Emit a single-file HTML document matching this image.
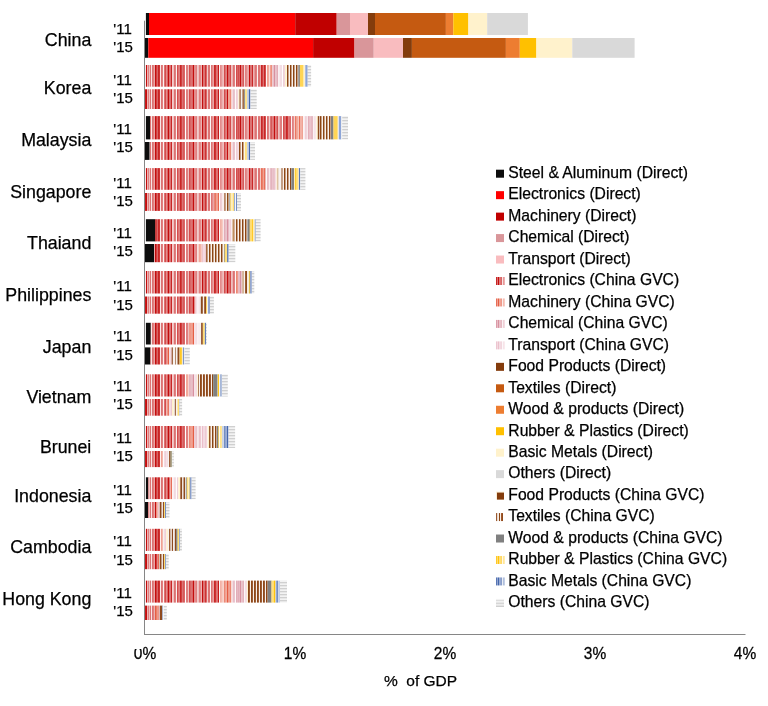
<!DOCTYPE html><html><head><meta charset="utf-8"><title>Chart</title><style>html,body{margin:0;padding:0;background:#fff;width:768px;height:706px;overflow:hidden}svg{display:block;will-change:transform}text{fill:#000;stroke:#000;stroke-width:0.25px}</style></head><body><svg width="768" height="706" viewBox="0 0 768 706" font-family="'Liberation Sans', Arial, sans-serif" fill="#000"><defs><pattern id="peg" patternUnits="userSpaceOnUse" x="145" y="0" width="172" height="4"><rect x="0" y="0" width="1" height="4" fill="#c61919"/><rect x="1" y="0" width="1" height="4" fill="#c30d0d"/><rect x="2" y="0" width="1" height="4" fill="#ecb2b2"/><rect x="3" y="0" width="1" height="4" fill="#e08080"/><rect x="4" y="0" width="1" height="4" fill="#efbfbf"/><rect x="5" y="0" width="1" height="4" fill="#dc7373"/><rect x="6" y="0" width="1" height="4" fill="#f9e6e6"/><rect x="7" y="0" width="1" height="4" fill="#dc7373"/><rect x="8" y="0" width="1" height="4" fill="#e08080"/><rect x="9" y="0" width="1" height="4" fill="#e9a6a6"/><rect x="10" y="0" width="1" height="4" fill="#c30d0d"/><rect x="11" y="0" width="1" height="4" fill="#d04040"/><rect x="12" y="0" width="1" height="4" fill="#d96666"/><rect x="13" y="0" width="1" height="4" fill="#c92626"/><rect x="14" y="0" width="1" height="4" fill="#cd3333"/><rect x="15" y="0" width="1" height="4" fill="#f9e6e6"/><rect x="16" y="0" width="1" height="4" fill="#dc7373"/><rect x="17" y="0" width="1" height="4" fill="#e08080"/><rect x="18" y="0" width="1" height="4" fill="#fcf2f2"/><rect x="19" y="0" width="1" height="4" fill="#dc7373"/><rect x="20" y="0" width="1" height="4" fill="#d34d4d"/><rect x="21" y="0" width="1" height="4" fill="#e38c8c"/><rect x="22" y="0" width="1" height="4" fill="#d96666"/><rect x="23" y="0" width="1" height="4" fill="#c30d0d"/><rect x="24" y="0" width="1" height="4" fill="#dc7373"/><rect x="25" y="0" width="1" height="4" fill="#dc7373"/><rect x="26" y="0" width="1" height="4" fill="#c92626"/><rect x="27" y="0" width="1" height="4" fill="#f2cccc"/><rect x="28" y="0" width="1" height="4" fill="#efbfbf"/><rect x="29" y="0" width="1" height="4" fill="#dc7373"/><rect x="30" y="0" width="1" height="4" fill="#e08080"/><rect x="31" y="0" width="1" height="4" fill="#fcf2f2"/><rect x="32" y="0" width="1" height="4" fill="#d34d4d"/><rect x="33" y="0" width="1" height="4" fill="#dc7373"/><rect x="34" y="0" width="1" height="4" fill="#e08080"/><rect x="35" y="0" width="1" height="4" fill="#c92626"/><rect x="36" y="0" width="1" height="4" fill="#d04040"/><rect x="37" y="0" width="1" height="4" fill="#dc7373"/><rect x="38" y="0" width="1" height="4" fill="#d65959"/><rect x="39" y="0" width="1" height="4" fill="#d96666"/><rect x="40" y="0" width="1" height="4" fill="#ffffff"/><rect x="41" y="0" width="1" height="4" fill="#e08080"/><rect x="42" y="0" width="1" height="4" fill="#e08080"/><rect x="43" y="0" width="1" height="4" fill="#efbfbf"/><rect x="44" y="0" width="1" height="4" fill="#d34d4d"/><rect x="45" y="0" width="1" height="4" fill="#d96666"/><rect x="46" y="0" width="1" height="4" fill="#dc7373"/><rect x="47" y="0" width="1" height="4" fill="#d96666"/><rect x="48" y="0" width="1" height="4" fill="#c30d0d"/><rect x="49" y="0" width="1" height="4" fill="#e38c8c"/><rect x="50" y="0" width="1" height="4" fill="#e38c8c"/><rect x="51" y="0" width="1" height="4" fill="#e08080"/><rect x="52" y="0" width="1" height="4" fill="#f2cccc"/><rect x="53" y="0" width="1" height="4" fill="#efbfbf"/><rect x="54" y="0" width="1" height="4" fill="#e08080"/><rect x="55" y="0" width="1" height="4" fill="#e38c8c"/><rect x="56" y="0" width="1" height="4" fill="#ecb2b2"/><rect x="57" y="0" width="1" height="4" fill="#c30d0d"/><rect x="58" y="0" width="1" height="4" fill="#dc7373"/><rect x="59" y="0" width="1" height="4" fill="#dc7373"/><rect x="60" y="0" width="1" height="4" fill="#cd3333"/><rect x="61" y="0" width="1" height="4" fill="#d96666"/><rect x="62" y="0" width="1" height="4" fill="#f2cccc"/><rect x="63" y="0" width="1" height="4" fill="#dc7373"/><rect x="64" y="0" width="1" height="4" fill="#dc7373"/><rect x="65" y="0" width="1" height="4" fill="#fdf7f7"/><rect x="66" y="0" width="1" height="4" fill="#dc7373"/><rect x="67" y="0" width="1" height="4" fill="#e38c8c"/><rect x="68" y="0" width="1" height="4" fill="#e9a6a6"/><rect x="69" y="0" width="1" height="4" fill="#c92626"/><rect x="70" y="0" width="1" height="4" fill="#cd3333"/><rect x="71" y="0" width="1" height="4" fill="#dc7373"/><rect x="72" y="0" width="1" height="4" fill="#dc7373"/><rect x="73" y="0" width="1" height="4" fill="#c61919"/><rect x="74" y="0" width="1" height="4" fill="#fcf2f2"/><rect x="75" y="0" width="1" height="4" fill="#e38c8c"/><rect x="76" y="0" width="1" height="4" fill="#e69999"/><rect x="77" y="0" width="1" height="4" fill="#ecb2b2"/><rect x="78" y="0" width="1" height="4" fill="#efbfbf"/><rect x="79" y="0" width="1" height="4" fill="#d34d4d"/><rect x="80" y="0" width="1" height="4" fill="#dc7373"/><rect x="81" y="0" width="1" height="4" fill="#e08080"/><rect x="82" y="0" width="1" height="4" fill="#c30d0d"/><rect x="83" y="0" width="1" height="4" fill="#d96666"/><rect x="84" y="0" width="1" height="4" fill="#dc7373"/><rect x="85" y="0" width="1" height="4" fill="#d34d4d"/><rect x="86" y="0" width="1" height="4" fill="#efbfbf"/><rect x="87" y="0" width="1" height="4" fill="#ecb2b2"/><rect x="88" y="0" width="1" height="4" fill="#dc7373"/><rect x="89" y="0" width="1" height="4" fill="#e08080"/><rect x="90" y="0" width="1" height="4" fill="#fcf2f2"/><rect x="91" y="0" width="1" height="4" fill="#d34d4d"/><rect x="92" y="0" width="1" height="4" fill="#d96666"/><rect x="93" y="0" width="1" height="4" fill="#d34d4d"/><rect x="94" y="0" width="1" height="4" fill="#d96666"/><rect x="95" y="0" width="1" height="4" fill="#c30d0d"/><rect x="96" y="0" width="1" height="4" fill="#e08080"/><rect x="97" y="0" width="1" height="4" fill="#dc7373"/><rect x="98" y="0" width="1" height="4" fill="#d65959"/><rect x="99" y="0" width="1" height="4" fill="#f6d9d9"/><rect x="100" y="0" width="1" height="4" fill="#e08080"/><rect x="101" y="0" width="1" height="4" fill="#e38c8c"/><rect x="102" y="0" width="1" height="4" fill="#e9a6a6"/><rect x="103" y="0" width="1" height="4" fill="#e9a6a6"/><rect x="104" y="0" width="1" height="4" fill="#c30d0d"/><rect x="105" y="0" width="1" height="4" fill="#dc7373"/><rect x="106" y="0" width="1" height="4" fill="#dc7373"/><rect x="107" y="0" width="1" height="4" fill="#c92626"/><rect x="108" y="0" width="1" height="4" fill="#ecb2b2"/><rect x="109" y="0" width="1" height="4" fill="#e69999"/><rect x="110" y="0" width="1" height="4" fill="#dc7373"/><rect x="111" y="0" width="1" height="4" fill="#e08080"/><rect x="112" y="0" width="1" height="4" fill="#fcf2f2"/><rect x="113" y="0" width="1" height="4" fill="#dc7373"/><rect x="114" y="0" width="1" height="4" fill="#dc7373"/><rect x="115" y="0" width="1" height="4" fill="#e9a6a6"/><rect x="116" y="0" width="1" height="4" fill="#c92626"/><rect x="117" y="0" width="1" height="4" fill="#d04040"/><rect x="118" y="0" width="1" height="4" fill="#dc7373"/><rect x="119" y="0" width="1" height="4" fill="#c92626"/><rect x="120" y="0" width="1" height="4" fill="#d34d4d"/><rect x="121" y="0" width="1" height="4" fill="#fcf2f2"/><rect x="122" y="0" width="1" height="4" fill="#dc7373"/><rect x="123" y="0" width="1" height="4" fill="#e08080"/><rect x="124" y="0" width="1" height="4" fill="#f2cccc"/><rect x="125" y="0" width="1" height="4" fill="#dc7373"/><rect x="126" y="0" width="1" height="4" fill="#d65959"/><rect x="127" y="0" width="1" height="4" fill="#e08080"/><rect x="128" y="0" width="1" height="4" fill="#dc7373"/><rect x="129" y="0" width="1" height="4" fill="#c30d0d"/><rect x="130" y="0" width="1" height="4" fill="#e08080"/><rect x="131" y="0" width="1" height="4" fill="#dc7373"/><rect x="132" y="0" width="1" height="4" fill="#d34d4d"/><rect x="133" y="0" width="1" height="4" fill="#efbfbf"/><rect x="134" y="0" width="1" height="4" fill="#ecb2b2"/><rect x="135" y="0" width="1" height="4" fill="#e08080"/><rect x="136" y="0" width="1" height="4" fill="#e08080"/><rect x="137" y="0" width="1" height="4" fill="#fefafa"/><rect x="138" y="0" width="1" height="4" fill="#d34d4d"/><rect x="139" y="0" width="1" height="4" fill="#d96666"/><rect x="140" y="0" width="1" height="4" fill="#dc7373"/><rect x="141" y="0" width="1" height="4" fill="#c92626"/><rect x="142" y="0" width="1" height="4" fill="#cd3333"/><rect x="143" y="0" width="1" height="4" fill="#e08080"/><rect x="144" y="0" width="1" height="4" fill="#dc7373"/><rect x="145" y="0" width="1" height="4" fill="#d96666"/><rect x="146" y="0" width="1" height="4" fill="#fcf2f2"/><rect x="147" y="0" width="1" height="4" fill="#e08080"/><rect x="148" y="0" width="1" height="4" fill="#e38c8c"/><rect x="149" y="0" width="1" height="4" fill="#ecb2b2"/><rect x="150" y="0" width="1" height="4" fill="#cd3333"/><rect x="151" y="0" width="1" height="4" fill="#dc7373"/><rect x="152" y="0" width="1" height="4" fill="#e08080"/><rect x="153" y="0" width="1" height="4" fill="#e9a6a6"/><rect x="154" y="0" width="1" height="4" fill="#c92626"/><rect x="155" y="0" width="1" height="4" fill="#e38c8c"/><rect x="156" y="0" width="1" height="4" fill="#e38c8c"/><rect x="157" y="0" width="1" height="4" fill="#dc7373"/><rect x="158" y="0" width="1" height="4" fill="#f9e6e6"/><rect x="159" y="0" width="1" height="4" fill="#f6d9d9"/><rect x="160" y="0" width="1" height="4" fill="#e69999"/><rect x="161" y="0" width="1" height="4" fill="#e9a6a6"/><rect x="162" y="0" width="1" height="4" fill="#f2cccc"/><rect x="163" y="0" width="1" height="4" fill="#d34d4d"/><rect x="164" y="0" width="1" height="4" fill="#dc7373"/><rect x="165" y="0" width="1" height="4" fill="#e08080"/><rect x="166" y="0" width="1" height="4" fill="#d96666"/><rect x="167" y="0" width="1" height="4" fill="#d96666"/><rect x="168" y="0" width="1" height="4" fill="#f9e6e6"/><rect x="169" y="0" width="1" height="4" fill="#e69999"/><rect x="170" y="0" width="1" height="4" fill="#e9a6a6"/><rect x="171" y="0" width="1" height="4" fill="#fcf2f2"/></pattern><pattern id="pmg" patternUnits="userSpaceOnUse" x="145" y="0" width="172" height="4"><rect x="0" y="0" width="1" height="4" fill="#e7664e"/><rect x="1" y="0" width="1" height="4" fill="#e55e44"/><rect x="2" y="0" width="1" height="4" fill="#f7ccc4"/><rect x="3" y="0" width="1" height="4" fill="#f2aa9c"/><rect x="4" y="0" width="1" height="4" fill="#f8d4ce"/><rect x="5" y="0" width="1" height="4" fill="#f0a293"/><rect x="6" y="0" width="1" height="4" fill="#fceeeb"/><rect x="7" y="0" width="1" height="4" fill="#f0a293"/><rect x="8" y="0" width="1" height="4" fill="#f2aa9c"/><rect x="9" y="0" width="1" height="4" fill="#f6c4ba"/><rect x="10" y="0" width="1" height="4" fill="#e55e44"/><rect x="11" y="0" width="1" height="4" fill="#eb806b"/><rect x="12" y="0" width="1" height="4" fill="#ef9989"/><rect x="13" y="0" width="1" height="4" fill="#e86e58"/><rect x="14" y="0" width="1" height="4" fill="#e97761"/><rect x="15" y="0" width="1" height="4" fill="#fceeeb"/><rect x="16" y="0" width="1" height="4" fill="#f0a293"/><rect x="17" y="0" width="1" height="4" fill="#f2aa9c"/><rect x="18" y="0" width="1" height="4" fill="#fef6f5"/><rect x="19" y="0" width="1" height="4" fill="#f0a293"/><rect x="20" y="0" width="1" height="4" fill="#ec8875"/><rect x="21" y="0" width="1" height="4" fill="#f3b2a6"/><rect x="22" y="0" width="1" height="4" fill="#ef9989"/><rect x="23" y="0" width="1" height="4" fill="#e55e44"/><rect x="24" y="0" width="1" height="4" fill="#f0a293"/><rect x="25" y="0" width="1" height="4" fill="#f0a293"/><rect x="26" y="0" width="1" height="4" fill="#e86e58"/><rect x="27" y="0" width="1" height="4" fill="#faddd8"/><rect x="28" y="0" width="1" height="4" fill="#f8d4ce"/><rect x="29" y="0" width="1" height="4" fill="#f0a293"/><rect x="30" y="0" width="1" height="4" fill="#f2aa9c"/><rect x="31" y="0" width="1" height="4" fill="#fef6f5"/><rect x="32" y="0" width="1" height="4" fill="#ec8875"/><rect x="33" y="0" width="1" height="4" fill="#f0a293"/><rect x="34" y="0" width="1" height="4" fill="#f2aa9c"/><rect x="35" y="0" width="1" height="4" fill="#e86e58"/><rect x="36" y="0" width="1" height="4" fill="#eb806b"/><rect x="37" y="0" width="1" height="4" fill="#f0a293"/><rect x="38" y="0" width="1" height="4" fill="#ed907f"/><rect x="39" y="0" width="1" height="4" fill="#ef9989"/><rect x="40" y="0" width="1" height="4" fill="#ffffff"/><rect x="41" y="0" width="1" height="4" fill="#f2aa9c"/><rect x="42" y="0" width="1" height="4" fill="#f2aa9c"/><rect x="43" y="0" width="1" height="4" fill="#f8d4ce"/><rect x="44" y="0" width="1" height="4" fill="#ec8875"/><rect x="45" y="0" width="1" height="4" fill="#ef9989"/><rect x="46" y="0" width="1" height="4" fill="#f0a293"/><rect x="47" y="0" width="1" height="4" fill="#ef9989"/><rect x="48" y="0" width="1" height="4" fill="#e55e44"/><rect x="49" y="0" width="1" height="4" fill="#f3b2a6"/><rect x="50" y="0" width="1" height="4" fill="#f3b2a6"/><rect x="51" y="0" width="1" height="4" fill="#f2aa9c"/><rect x="52" y="0" width="1" height="4" fill="#faddd8"/><rect x="53" y="0" width="1" height="4" fill="#f8d4ce"/><rect x="54" y="0" width="1" height="4" fill="#f2aa9c"/><rect x="55" y="0" width="1" height="4" fill="#f3b2a6"/><rect x="56" y="0" width="1" height="4" fill="#f7ccc4"/><rect x="57" y="0" width="1" height="4" fill="#e55e44"/><rect x="58" y="0" width="1" height="4" fill="#f0a293"/><rect x="59" y="0" width="1" height="4" fill="#f0a293"/><rect x="60" y="0" width="1" height="4" fill="#e97761"/><rect x="61" y="0" width="1" height="4" fill="#ef9989"/><rect x="62" y="0" width="1" height="4" fill="#faddd8"/><rect x="63" y="0" width="1" height="4" fill="#f0a293"/><rect x="64" y="0" width="1" height="4" fill="#f0a293"/><rect x="65" y="0" width="1" height="4" fill="#fefaf9"/><rect x="66" y="0" width="1" height="4" fill="#f0a293"/><rect x="67" y="0" width="1" height="4" fill="#f3b2a6"/><rect x="68" y="0" width="1" height="4" fill="#f6c4ba"/><rect x="69" y="0" width="1" height="4" fill="#e86e58"/><rect x="70" y="0" width="1" height="4" fill="#e97761"/><rect x="71" y="0" width="1" height="4" fill="#f0a293"/><rect x="72" y="0" width="1" height="4" fill="#f0a293"/><rect x="73" y="0" width="1" height="4" fill="#e7664e"/><rect x="74" y="0" width="1" height="4" fill="#fef6f5"/><rect x="75" y="0" width="1" height="4" fill="#f3b2a6"/><rect x="76" y="0" width="1" height="4" fill="#f4bbb0"/><rect x="77" y="0" width="1" height="4" fill="#f7ccc4"/><rect x="78" y="0" width="1" height="4" fill="#f8d4ce"/><rect x="79" y="0" width="1" height="4" fill="#ec8875"/><rect x="80" y="0" width="1" height="4" fill="#f0a293"/><rect x="81" y="0" width="1" height="4" fill="#f2aa9c"/><rect x="82" y="0" width="1" height="4" fill="#e55e44"/><rect x="83" y="0" width="1" height="4" fill="#ef9989"/><rect x="84" y="0" width="1" height="4" fill="#f0a293"/><rect x="85" y="0" width="1" height="4" fill="#ec8875"/><rect x="86" y="0" width="1" height="4" fill="#f8d4ce"/><rect x="87" y="0" width="1" height="4" fill="#f7ccc4"/><rect x="88" y="0" width="1" height="4" fill="#f0a293"/><rect x="89" y="0" width="1" height="4" fill="#f2aa9c"/><rect x="90" y="0" width="1" height="4" fill="#fef6f5"/><rect x="91" y="0" width="1" height="4" fill="#ec8875"/><rect x="92" y="0" width="1" height="4" fill="#ef9989"/><rect x="93" y="0" width="1" height="4" fill="#ec8875"/><rect x="94" y="0" width="1" height="4" fill="#ef9989"/><rect x="95" y="0" width="1" height="4" fill="#e55e44"/><rect x="96" y="0" width="1" height="4" fill="#f2aa9c"/><rect x="97" y="0" width="1" height="4" fill="#f0a293"/><rect x="98" y="0" width="1" height="4" fill="#ed907f"/><rect x="99" y="0" width="1" height="4" fill="#fbe6e1"/><rect x="100" y="0" width="1" height="4" fill="#f2aa9c"/><rect x="101" y="0" width="1" height="4" fill="#f3b2a6"/><rect x="102" y="0" width="1" height="4" fill="#f6c4ba"/><rect x="103" y="0" width="1" height="4" fill="#f6c4ba"/><rect x="104" y="0" width="1" height="4" fill="#e55e44"/><rect x="105" y="0" width="1" height="4" fill="#f0a293"/><rect x="106" y="0" width="1" height="4" fill="#f0a293"/><rect x="107" y="0" width="1" height="4" fill="#e86e58"/><rect x="108" y="0" width="1" height="4" fill="#f7ccc4"/><rect x="109" y="0" width="1" height="4" fill="#f4bbb0"/><rect x="110" y="0" width="1" height="4" fill="#f0a293"/><rect x="111" y="0" width="1" height="4" fill="#f2aa9c"/><rect x="112" y="0" width="1" height="4" fill="#fef6f5"/><rect x="113" y="0" width="1" height="4" fill="#f0a293"/><rect x="114" y="0" width="1" height="4" fill="#f0a293"/><rect x="115" y="0" width="1" height="4" fill="#f6c4ba"/><rect x="116" y="0" width="1" height="4" fill="#e86e58"/><rect x="117" y="0" width="1" height="4" fill="#eb806b"/><rect x="118" y="0" width="1" height="4" fill="#f0a293"/><rect x="119" y="0" width="1" height="4" fill="#e86e58"/><rect x="120" y="0" width="1" height="4" fill="#ec8875"/><rect x="121" y="0" width="1" height="4" fill="#fef6f5"/><rect x="122" y="0" width="1" height="4" fill="#f0a293"/><rect x="123" y="0" width="1" height="4" fill="#f2aa9c"/><rect x="124" y="0" width="1" height="4" fill="#faddd8"/><rect x="125" y="0" width="1" height="4" fill="#f0a293"/><rect x="126" y="0" width="1" height="4" fill="#ed907f"/><rect x="127" y="0" width="1" height="4" fill="#f2aa9c"/><rect x="128" y="0" width="1" height="4" fill="#f0a293"/><rect x="129" y="0" width="1" height="4" fill="#e55e44"/><rect x="130" y="0" width="1" height="4" fill="#f2aa9c"/><rect x="131" y="0" width="1" height="4" fill="#f0a293"/><rect x="132" y="0" width="1" height="4" fill="#ec8875"/><rect x="133" y="0" width="1" height="4" fill="#f8d4ce"/><rect x="134" y="0" width="1" height="4" fill="#f7ccc4"/><rect x="135" y="0" width="1" height="4" fill="#f2aa9c"/><rect x="136" y="0" width="1" height="4" fill="#f2aa9c"/><rect x="137" y="0" width="1" height="4" fill="#fefcfb"/><rect x="138" y="0" width="1" height="4" fill="#ec8875"/><rect x="139" y="0" width="1" height="4" fill="#ef9989"/><rect x="140" y="0" width="1" height="4" fill="#f0a293"/><rect x="141" y="0" width="1" height="4" fill="#e86e58"/><rect x="142" y="0" width="1" height="4" fill="#e97761"/><rect x="143" y="0" width="1" height="4" fill="#f2aa9c"/><rect x="144" y="0" width="1" height="4" fill="#f0a293"/><rect x="145" y="0" width="1" height="4" fill="#ef9989"/><rect x="146" y="0" width="1" height="4" fill="#fef6f5"/><rect x="147" y="0" width="1" height="4" fill="#f2aa9c"/><rect x="148" y="0" width="1" height="4" fill="#f3b2a6"/><rect x="149" y="0" width="1" height="4" fill="#f7ccc4"/><rect x="150" y="0" width="1" height="4" fill="#e97761"/><rect x="151" y="0" width="1" height="4" fill="#f0a293"/><rect x="152" y="0" width="1" height="4" fill="#f2aa9c"/><rect x="153" y="0" width="1" height="4" fill="#f6c4ba"/><rect x="154" y="0" width="1" height="4" fill="#e86e58"/><rect x="155" y="0" width="1" height="4" fill="#f3b2a6"/><rect x="156" y="0" width="1" height="4" fill="#f3b2a6"/><rect x="157" y="0" width="1" height="4" fill="#f0a293"/><rect x="158" y="0" width="1" height="4" fill="#fceeeb"/><rect x="159" y="0" width="1" height="4" fill="#fbe6e1"/><rect x="160" y="0" width="1" height="4" fill="#f4bbb0"/><rect x="161" y="0" width="1" height="4" fill="#f6c4ba"/><rect x="162" y="0" width="1" height="4" fill="#faddd8"/><rect x="163" y="0" width="1" height="4" fill="#ec8875"/><rect x="164" y="0" width="1" height="4" fill="#f0a293"/><rect x="165" y="0" width="1" height="4" fill="#f2aa9c"/><rect x="166" y="0" width="1" height="4" fill="#ef9989"/><rect x="167" y="0" width="1" height="4" fill="#ef9989"/><rect x="168" y="0" width="1" height="4" fill="#fceeeb"/><rect x="169" y="0" width="1" height="4" fill="#f4bbb0"/><rect x="170" y="0" width="1" height="4" fill="#f6c4ba"/><rect x="171" y="0" width="1" height="4" fill="#fef6f5"/></pattern><pattern id="pcg" patternUnits="userSpaceOnUse" x="145" y="0" width="172" height="4"><rect x="0" y="0" width="1" height="4" fill="#da96a4"/><rect x="1" y="0" width="1" height="4" fill="#d8909f"/><rect x="2" y="0" width="1" height="4" fill="#f3dce1"/><rect x="3" y="0" width="1" height="4" fill="#eac4cc"/><rect x="4" y="0" width="1" height="4" fill="#f5e2e6"/><rect x="5" y="0" width="1" height="4" fill="#e8bfc7"/><rect x="6" y="0" width="1" height="4" fill="#fbf3f5"/><rect x="7" y="0" width="1" height="4" fill="#e8bfc7"/><rect x="8" y="0" width="1" height="4" fill="#eac4cc"/><rect x="9" y="0" width="1" height="4" fill="#f1d6dc"/><rect x="10" y="0" width="1" height="4" fill="#d8909f"/><rect x="11" y="0" width="1" height="4" fill="#e0a7b3"/><rect x="12" y="0" width="1" height="4" fill="#e6b9c2"/><rect x="13" y="0" width="1" height="4" fill="#dc9ca9"/><rect x="14" y="0" width="1" height="4" fill="#dea1ae"/><rect x="15" y="0" width="1" height="4" fill="#fbf3f5"/><rect x="16" y="0" width="1" height="4" fill="#e8bfc7"/><rect x="17" y="0" width="1" height="4" fill="#eac4cc"/><rect x="18" y="0" width="1" height="4" fill="#fdf9fa"/><rect x="19" y="0" width="1" height="4" fill="#e8bfc7"/><rect x="20" y="0" width="1" height="4" fill="#e2adb8"/><rect x="21" y="0" width="1" height="4" fill="#edcad2"/><rect x="22" y="0" width="1" height="4" fill="#e6b9c2"/><rect x="23" y="0" width="1" height="4" fill="#d8909f"/><rect x="24" y="0" width="1" height="4" fill="#e8bfc7"/><rect x="25" y="0" width="1" height="4" fill="#e8bfc7"/><rect x="26" y="0" width="1" height="4" fill="#dc9ca9"/><rect x="27" y="0" width="1" height="4" fill="#f7e8eb"/><rect x="28" y="0" width="1" height="4" fill="#f5e2e6"/><rect x="29" y="0" width="1" height="4" fill="#e8bfc7"/><rect x="30" y="0" width="1" height="4" fill="#eac4cc"/><rect x="31" y="0" width="1" height="4" fill="#fdf9fa"/><rect x="32" y="0" width="1" height="4" fill="#e2adb8"/><rect x="33" y="0" width="1" height="4" fill="#e8bfc7"/><rect x="34" y="0" width="1" height="4" fill="#eac4cc"/><rect x="35" y="0" width="1" height="4" fill="#dc9ca9"/><rect x="36" y="0" width="1" height="4" fill="#e0a7b3"/><rect x="37" y="0" width="1" height="4" fill="#e8bfc7"/><rect x="38" y="0" width="1" height="4" fill="#e4b3bd"/><rect x="39" y="0" width="1" height="4" fill="#e6b9c2"/><rect x="40" y="0" width="1" height="4" fill="#ffffff"/><rect x="41" y="0" width="1" height="4" fill="#eac4cc"/><rect x="42" y="0" width="1" height="4" fill="#eac4cc"/><rect x="43" y="0" width="1" height="4" fill="#f5e2e6"/><rect x="44" y="0" width="1" height="4" fill="#e2adb8"/><rect x="45" y="0" width="1" height="4" fill="#e6b9c2"/><rect x="46" y="0" width="1" height="4" fill="#e8bfc7"/><rect x="47" y="0" width="1" height="4" fill="#e6b9c2"/><rect x="48" y="0" width="1" height="4" fill="#d8909f"/><rect x="49" y="0" width="1" height="4" fill="#edcad2"/><rect x="50" y="0" width="1" height="4" fill="#edcad2"/><rect x="51" y="0" width="1" height="4" fill="#eac4cc"/><rect x="52" y="0" width="1" height="4" fill="#f7e8eb"/><rect x="53" y="0" width="1" height="4" fill="#f5e2e6"/><rect x="54" y="0" width="1" height="4" fill="#eac4cc"/><rect x="55" y="0" width="1" height="4" fill="#edcad2"/><rect x="56" y="0" width="1" height="4" fill="#f3dce1"/><rect x="57" y="0" width="1" height="4" fill="#d8909f"/><rect x="58" y="0" width="1" height="4" fill="#e8bfc7"/><rect x="59" y="0" width="1" height="4" fill="#e8bfc7"/><rect x="60" y="0" width="1" height="4" fill="#dea1ae"/><rect x="61" y="0" width="1" height="4" fill="#e6b9c2"/><rect x="62" y="0" width="1" height="4" fill="#f7e8eb"/><rect x="63" y="0" width="1" height="4" fill="#e8bfc7"/><rect x="64" y="0" width="1" height="4" fill="#e8bfc7"/><rect x="65" y="0" width="1" height="4" fill="#fefbfc"/><rect x="66" y="0" width="1" height="4" fill="#e8bfc7"/><rect x="67" y="0" width="1" height="4" fill="#edcad2"/><rect x="68" y="0" width="1" height="4" fill="#f1d6dc"/><rect x="69" y="0" width="1" height="4" fill="#dc9ca9"/><rect x="70" y="0" width="1" height="4" fill="#dea1ae"/><rect x="71" y="0" width="1" height="4" fill="#e8bfc7"/><rect x="72" y="0" width="1" height="4" fill="#e8bfc7"/><rect x="73" y="0" width="1" height="4" fill="#da96a4"/><rect x="74" y="0" width="1" height="4" fill="#fdf9fa"/><rect x="75" y="0" width="1" height="4" fill="#edcad2"/><rect x="76" y="0" width="1" height="4" fill="#efd0d7"/><rect x="77" y="0" width="1" height="4" fill="#f3dce1"/><rect x="78" y="0" width="1" height="4" fill="#f5e2e6"/><rect x="79" y="0" width="1" height="4" fill="#e2adb8"/><rect x="80" y="0" width="1" height="4" fill="#e8bfc7"/><rect x="81" y="0" width="1" height="4" fill="#eac4cc"/><rect x="82" y="0" width="1" height="4" fill="#d8909f"/><rect x="83" y="0" width="1" height="4" fill="#e6b9c2"/><rect x="84" y="0" width="1" height="4" fill="#e8bfc7"/><rect x="85" y="0" width="1" height="4" fill="#e2adb8"/><rect x="86" y="0" width="1" height="4" fill="#f5e2e6"/><rect x="87" y="0" width="1" height="4" fill="#f3dce1"/><rect x="88" y="0" width="1" height="4" fill="#e8bfc7"/><rect x="89" y="0" width="1" height="4" fill="#eac4cc"/><rect x="90" y="0" width="1" height="4" fill="#fdf9fa"/><rect x="91" y="0" width="1" height="4" fill="#e2adb8"/><rect x="92" y="0" width="1" height="4" fill="#e6b9c2"/><rect x="93" y="0" width="1" height="4" fill="#e2adb8"/><rect x="94" y="0" width="1" height="4" fill="#e6b9c2"/><rect x="95" y="0" width="1" height="4" fill="#d8909f"/><rect x="96" y="0" width="1" height="4" fill="#eac4cc"/><rect x="97" y="0" width="1" height="4" fill="#e8bfc7"/><rect x="98" y="0" width="1" height="4" fill="#e4b3bd"/><rect x="99" y="0" width="1" height="4" fill="#f9edf0"/><rect x="100" y="0" width="1" height="4" fill="#eac4cc"/><rect x="101" y="0" width="1" height="4" fill="#edcad2"/><rect x="102" y="0" width="1" height="4" fill="#f1d6dc"/><rect x="103" y="0" width="1" height="4" fill="#f1d6dc"/><rect x="104" y="0" width="1" height="4" fill="#d8909f"/><rect x="105" y="0" width="1" height="4" fill="#e8bfc7"/><rect x="106" y="0" width="1" height="4" fill="#e8bfc7"/><rect x="107" y="0" width="1" height="4" fill="#dc9ca9"/><rect x="108" y="0" width="1" height="4" fill="#f3dce1"/><rect x="109" y="0" width="1" height="4" fill="#efd0d7"/><rect x="110" y="0" width="1" height="4" fill="#e8bfc7"/><rect x="111" y="0" width="1" height="4" fill="#eac4cc"/><rect x="112" y="0" width="1" height="4" fill="#fdf9fa"/><rect x="113" y="0" width="1" height="4" fill="#e8bfc7"/><rect x="114" y="0" width="1" height="4" fill="#e8bfc7"/><rect x="115" y="0" width="1" height="4" fill="#f1d6dc"/><rect x="116" y="0" width="1" height="4" fill="#dc9ca9"/><rect x="117" y="0" width="1" height="4" fill="#e0a7b3"/><rect x="118" y="0" width="1" height="4" fill="#e8bfc7"/><rect x="119" y="0" width="1" height="4" fill="#dc9ca9"/><rect x="120" y="0" width="1" height="4" fill="#e2adb8"/><rect x="121" y="0" width="1" height="4" fill="#fdf9fa"/><rect x="122" y="0" width="1" height="4" fill="#e8bfc7"/><rect x="123" y="0" width="1" height="4" fill="#eac4cc"/><rect x="124" y="0" width="1" height="4" fill="#f7e8eb"/><rect x="125" y="0" width="1" height="4" fill="#e8bfc7"/><rect x="126" y="0" width="1" height="4" fill="#e4b3bd"/><rect x="127" y="0" width="1" height="4" fill="#eac4cc"/><rect x="128" y="0" width="1" height="4" fill="#e8bfc7"/><rect x="129" y="0" width="1" height="4" fill="#d8909f"/><rect x="130" y="0" width="1" height="4" fill="#eac4cc"/><rect x="131" y="0" width="1" height="4" fill="#e8bfc7"/><rect x="132" y="0" width="1" height="4" fill="#e2adb8"/><rect x="133" y="0" width="1" height="4" fill="#f5e2e6"/><rect x="134" y="0" width="1" height="4" fill="#f3dce1"/><rect x="135" y="0" width="1" height="4" fill="#eac4cc"/><rect x="136" y="0" width="1" height="4" fill="#eac4cc"/><rect x="137" y="0" width="1" height="4" fill="#fefdfd"/><rect x="138" y="0" width="1" height="4" fill="#e2adb8"/><rect x="139" y="0" width="1" height="4" fill="#e6b9c2"/><rect x="140" y="0" width="1" height="4" fill="#e8bfc7"/><rect x="141" y="0" width="1" height="4" fill="#dc9ca9"/><rect x="142" y="0" width="1" height="4" fill="#dea1ae"/><rect x="143" y="0" width="1" height="4" fill="#eac4cc"/><rect x="144" y="0" width="1" height="4" fill="#e8bfc7"/><rect x="145" y="0" width="1" height="4" fill="#e6b9c2"/><rect x="146" y="0" width="1" height="4" fill="#fdf9fa"/><rect x="147" y="0" width="1" height="4" fill="#eac4cc"/><rect x="148" y="0" width="1" height="4" fill="#edcad2"/><rect x="149" y="0" width="1" height="4" fill="#f3dce1"/><rect x="150" y="0" width="1" height="4" fill="#dea1ae"/><rect x="151" y="0" width="1" height="4" fill="#e8bfc7"/><rect x="152" y="0" width="1" height="4" fill="#eac4cc"/><rect x="153" y="0" width="1" height="4" fill="#f1d6dc"/><rect x="154" y="0" width="1" height="4" fill="#dc9ca9"/><rect x="155" y="0" width="1" height="4" fill="#edcad2"/><rect x="156" y="0" width="1" height="4" fill="#edcad2"/><rect x="157" y="0" width="1" height="4" fill="#e8bfc7"/><rect x="158" y="0" width="1" height="4" fill="#fbf3f5"/><rect x="159" y="0" width="1" height="4" fill="#f9edf0"/><rect x="160" y="0" width="1" height="4" fill="#efd0d7"/><rect x="161" y="0" width="1" height="4" fill="#f1d6dc"/><rect x="162" y="0" width="1" height="4" fill="#f7e8eb"/><rect x="163" y="0" width="1" height="4" fill="#e2adb8"/><rect x="164" y="0" width="1" height="4" fill="#e8bfc7"/><rect x="165" y="0" width="1" height="4" fill="#eac4cc"/><rect x="166" y="0" width="1" height="4" fill="#e6b9c2"/><rect x="167" y="0" width="1" height="4" fill="#e6b9c2"/><rect x="168" y="0" width="1" height="4" fill="#fbf3f5"/><rect x="169" y="0" width="1" height="4" fill="#efd0d7"/><rect x="170" y="0" width="1" height="4" fill="#f1d6dc"/><rect x="171" y="0" width="1" height="4" fill="#fdf9fa"/></pattern><pattern id="ptg" patternUnits="userSpaceOnUse" x="145" y="0" width="172" height="4"><rect x="0" y="0" width="1" height="4" fill="#ecc3ce"/><rect x="1" y="0" width="1" height="4" fill="#ebbfcb"/><rect x="2" y="0" width="1" height="4" fill="#f9ebee"/><rect x="3" y="0" width="1" height="4" fill="#f4dee4"/><rect x="4" y="0" width="1" height="4" fill="#faeef1"/><rect x="5" y="0" width="1" height="4" fill="#f3dae1"/><rect x="6" y="0" width="1" height="4" fill="#fdf8fa"/><rect x="7" y="0" width="1" height="4" fill="#f3dae1"/><rect x="8" y="0" width="1" height="4" fill="#f4dee4"/><rect x="9" y="0" width="1" height="4" fill="#f8e8ec"/><rect x="10" y="0" width="1" height="4" fill="#ebbfcb"/><rect x="11" y="0" width="1" height="4" fill="#efcdd6"/><rect x="12" y="0" width="1" height="4" fill="#f2d7de"/><rect x="13" y="0" width="1" height="4" fill="#edc6d0"/><rect x="14" y="0" width="1" height="4" fill="#eec9d3"/><rect x="15" y="0" width="1" height="4" fill="#fdf8fa"/><rect x="16" y="0" width="1" height="4" fill="#f3dae1"/><rect x="17" y="0" width="1" height="4" fill="#f4dee4"/><rect x="18" y="0" width="1" height="4" fill="#fefcfc"/><rect x="19" y="0" width="1" height="4" fill="#f3dae1"/><rect x="20" y="0" width="1" height="4" fill="#f0d0d8"/><rect x="21" y="0" width="1" height="4" fill="#f6e1e6"/><rect x="22" y="0" width="1" height="4" fill="#f2d7de"/><rect x="23" y="0" width="1" height="4" fill="#ebbfcb"/><rect x="24" y="0" width="1" height="4" fill="#f3dae1"/><rect x="25" y="0" width="1" height="4" fill="#f3dae1"/><rect x="26" y="0" width="1" height="4" fill="#edc6d0"/><rect x="27" y="0" width="1" height="4" fill="#fbf2f4"/><rect x="28" y="0" width="1" height="4" fill="#faeef1"/><rect x="29" y="0" width="1" height="4" fill="#f3dae1"/><rect x="30" y="0" width="1" height="4" fill="#f4dee4"/><rect x="31" y="0" width="1" height="4" fill="#fefcfc"/><rect x="32" y="0" width="1" height="4" fill="#f0d0d8"/><rect x="33" y="0" width="1" height="4" fill="#f3dae1"/><rect x="34" y="0" width="1" height="4" fill="#f4dee4"/><rect x="35" y="0" width="1" height="4" fill="#edc6d0"/><rect x="36" y="0" width="1" height="4" fill="#efcdd6"/><rect x="37" y="0" width="1" height="4" fill="#f3dae1"/><rect x="38" y="0" width="1" height="4" fill="#f1d3db"/><rect x="39" y="0" width="1" height="4" fill="#f2d7de"/><rect x="40" y="0" width="1" height="4" fill="#ffffff"/><rect x="41" y="0" width="1" height="4" fill="#f4dee4"/><rect x="42" y="0" width="1" height="4" fill="#f4dee4"/><rect x="43" y="0" width="1" height="4" fill="#faeef1"/><rect x="44" y="0" width="1" height="4" fill="#f0d0d8"/><rect x="45" y="0" width="1" height="4" fill="#f2d7de"/><rect x="46" y="0" width="1" height="4" fill="#f3dae1"/><rect x="47" y="0" width="1" height="4" fill="#f2d7de"/><rect x="48" y="0" width="1" height="4" fill="#ebbfcb"/><rect x="49" y="0" width="1" height="4" fill="#f6e1e6"/><rect x="50" y="0" width="1" height="4" fill="#f6e1e6"/><rect x="51" y="0" width="1" height="4" fill="#f4dee4"/><rect x="52" y="0" width="1" height="4" fill="#fbf2f4"/><rect x="53" y="0" width="1" height="4" fill="#faeef1"/><rect x="54" y="0" width="1" height="4" fill="#f4dee4"/><rect x="55" y="0" width="1" height="4" fill="#f6e1e6"/><rect x="56" y="0" width="1" height="4" fill="#f9ebee"/><rect x="57" y="0" width="1" height="4" fill="#ebbfcb"/><rect x="58" y="0" width="1" height="4" fill="#f3dae1"/><rect x="59" y="0" width="1" height="4" fill="#f3dae1"/><rect x="60" y="0" width="1" height="4" fill="#eec9d3"/><rect x="61" y="0" width="1" height="4" fill="#f2d7de"/><rect x="62" y="0" width="1" height="4" fill="#fbf2f4"/><rect x="63" y="0" width="1" height="4" fill="#f3dae1"/><rect x="64" y="0" width="1" height="4" fill="#f3dae1"/><rect x="65" y="0" width="1" height="4" fill="#fefdfd"/><rect x="66" y="0" width="1" height="4" fill="#f3dae1"/><rect x="67" y="0" width="1" height="4" fill="#f6e1e6"/><rect x="68" y="0" width="1" height="4" fill="#f8e8ec"/><rect x="69" y="0" width="1" height="4" fill="#edc6d0"/><rect x="70" y="0" width="1" height="4" fill="#eec9d3"/><rect x="71" y="0" width="1" height="4" fill="#f3dae1"/><rect x="72" y="0" width="1" height="4" fill="#f3dae1"/><rect x="73" y="0" width="1" height="4" fill="#ecc3ce"/><rect x="74" y="0" width="1" height="4" fill="#fefcfc"/><rect x="75" y="0" width="1" height="4" fill="#f6e1e6"/><rect x="76" y="0" width="1" height="4" fill="#f7e4e9"/><rect x="77" y="0" width="1" height="4" fill="#f9ebee"/><rect x="78" y="0" width="1" height="4" fill="#faeef1"/><rect x="79" y="0" width="1" height="4" fill="#f0d0d8"/><rect x="80" y="0" width="1" height="4" fill="#f3dae1"/><rect x="81" y="0" width="1" height="4" fill="#f4dee4"/><rect x="82" y="0" width="1" height="4" fill="#ebbfcb"/><rect x="83" y="0" width="1" height="4" fill="#f2d7de"/><rect x="84" y="0" width="1" height="4" fill="#f3dae1"/><rect x="85" y="0" width="1" height="4" fill="#f0d0d8"/><rect x="86" y="0" width="1" height="4" fill="#faeef1"/><rect x="87" y="0" width="1" height="4" fill="#f9ebee"/><rect x="88" y="0" width="1" height="4" fill="#f3dae1"/><rect x="89" y="0" width="1" height="4" fill="#f4dee4"/><rect x="90" y="0" width="1" height="4" fill="#fefcfc"/><rect x="91" y="0" width="1" height="4" fill="#f0d0d8"/><rect x="92" y="0" width="1" height="4" fill="#f2d7de"/><rect x="93" y="0" width="1" height="4" fill="#f0d0d8"/><rect x="94" y="0" width="1" height="4" fill="#f2d7de"/><rect x="95" y="0" width="1" height="4" fill="#ebbfcb"/><rect x="96" y="0" width="1" height="4" fill="#f4dee4"/><rect x="97" y="0" width="1" height="4" fill="#f3dae1"/><rect x="98" y="0" width="1" height="4" fill="#f1d3db"/><rect x="99" y="0" width="1" height="4" fill="#fcf5f7"/><rect x="100" y="0" width="1" height="4" fill="#f4dee4"/><rect x="101" y="0" width="1" height="4" fill="#f6e1e6"/><rect x="102" y="0" width="1" height="4" fill="#f8e8ec"/><rect x="103" y="0" width="1" height="4" fill="#f8e8ec"/><rect x="104" y="0" width="1" height="4" fill="#ebbfcb"/><rect x="105" y="0" width="1" height="4" fill="#f3dae1"/><rect x="106" y="0" width="1" height="4" fill="#f3dae1"/><rect x="107" y="0" width="1" height="4" fill="#edc6d0"/><rect x="108" y="0" width="1" height="4" fill="#f9ebee"/><rect x="109" y="0" width="1" height="4" fill="#f7e4e9"/><rect x="110" y="0" width="1" height="4" fill="#f3dae1"/><rect x="111" y="0" width="1" height="4" fill="#f4dee4"/><rect x="112" y="0" width="1" height="4" fill="#fefcfc"/><rect x="113" y="0" width="1" height="4" fill="#f3dae1"/><rect x="114" y="0" width="1" height="4" fill="#f3dae1"/><rect x="115" y="0" width="1" height="4" fill="#f8e8ec"/><rect x="116" y="0" width="1" height="4" fill="#edc6d0"/><rect x="117" y="0" width="1" height="4" fill="#efcdd6"/><rect x="118" y="0" width="1" height="4" fill="#f3dae1"/><rect x="119" y="0" width="1" height="4" fill="#edc6d0"/><rect x="120" y="0" width="1" height="4" fill="#f0d0d8"/><rect x="121" y="0" width="1" height="4" fill="#fefcfc"/><rect x="122" y="0" width="1" height="4" fill="#f3dae1"/><rect x="123" y="0" width="1" height="4" fill="#f4dee4"/><rect x="124" y="0" width="1" height="4" fill="#fbf2f4"/><rect x="125" y="0" width="1" height="4" fill="#f3dae1"/><rect x="126" y="0" width="1" height="4" fill="#f1d3db"/><rect x="127" y="0" width="1" height="4" fill="#f4dee4"/><rect x="128" y="0" width="1" height="4" fill="#f3dae1"/><rect x="129" y="0" width="1" height="4" fill="#ebbfcb"/><rect x="130" y="0" width="1" height="4" fill="#f4dee4"/><rect x="131" y="0" width="1" height="4" fill="#f3dae1"/><rect x="132" y="0" width="1" height="4" fill="#f0d0d8"/><rect x="133" y="0" width="1" height="4" fill="#faeef1"/><rect x="134" y="0" width="1" height="4" fill="#f9ebee"/><rect x="135" y="0" width="1" height="4" fill="#f4dee4"/><rect x="136" y="0" width="1" height="4" fill="#f4dee4"/><rect x="137" y="0" width="1" height="4" fill="#fffefe"/><rect x="138" y="0" width="1" height="4" fill="#f0d0d8"/><rect x="139" y="0" width="1" height="4" fill="#f2d7de"/><rect x="140" y="0" width="1" height="4" fill="#f3dae1"/><rect x="141" y="0" width="1" height="4" fill="#edc6d0"/><rect x="142" y="0" width="1" height="4" fill="#eec9d3"/><rect x="143" y="0" width="1" height="4" fill="#f4dee4"/><rect x="144" y="0" width="1" height="4" fill="#f3dae1"/><rect x="145" y="0" width="1" height="4" fill="#f2d7de"/><rect x="146" y="0" width="1" height="4" fill="#fefcfc"/><rect x="147" y="0" width="1" height="4" fill="#f4dee4"/><rect x="148" y="0" width="1" height="4" fill="#f6e1e6"/><rect x="149" y="0" width="1" height="4" fill="#f9ebee"/><rect x="150" y="0" width="1" height="4" fill="#eec9d3"/><rect x="151" y="0" width="1" height="4" fill="#f3dae1"/><rect x="152" y="0" width="1" height="4" fill="#f4dee4"/><rect x="153" y="0" width="1" height="4" fill="#f8e8ec"/><rect x="154" y="0" width="1" height="4" fill="#edc6d0"/><rect x="155" y="0" width="1" height="4" fill="#f6e1e6"/><rect x="156" y="0" width="1" height="4" fill="#f6e1e6"/><rect x="157" y="0" width="1" height="4" fill="#f3dae1"/><rect x="158" y="0" width="1" height="4" fill="#fdf8fa"/><rect x="159" y="0" width="1" height="4" fill="#fcf5f7"/><rect x="160" y="0" width="1" height="4" fill="#f7e4e9"/><rect x="161" y="0" width="1" height="4" fill="#f8e8ec"/><rect x="162" y="0" width="1" height="4" fill="#fbf2f4"/><rect x="163" y="0" width="1" height="4" fill="#f0d0d8"/><rect x="164" y="0" width="1" height="4" fill="#f3dae1"/><rect x="165" y="0" width="1" height="4" fill="#f4dee4"/><rect x="166" y="0" width="1" height="4" fill="#f2d7de"/><rect x="167" y="0" width="1" height="4" fill="#f2d7de"/><rect x="168" y="0" width="1" height="4" fill="#fdf8fa"/><rect x="169" y="0" width="1" height="4" fill="#f7e4e9"/><rect x="170" y="0" width="1" height="4" fill="#f8e8ec"/><rect x="171" y="0" width="1" height="4" fill="#fefcfc"/></pattern><pattern id="prg" patternUnits="userSpaceOnUse" x="145" y="0" width="172" height="4"><rect x="0" y="0" width="1" height="4" fill="#ffc619"/><rect x="1" y="0" width="1" height="4" fill="#ffc30d"/><rect x="2" y="0" width="1" height="4" fill="#ffecb2"/><rect x="3" y="0" width="1" height="4" fill="#ffe080"/><rect x="4" y="0" width="1" height="4" fill="#ffefbf"/><rect x="5" y="0" width="1" height="4" fill="#ffdc73"/><rect x="6" y="0" width="1" height="4" fill="#fff9e6"/><rect x="7" y="0" width="1" height="4" fill="#ffdc73"/><rect x="8" y="0" width="1" height="4" fill="#ffe080"/><rect x="9" y="0" width="1" height="4" fill="#ffe9a6"/><rect x="10" y="0" width="1" height="4" fill="#ffc30d"/><rect x="11" y="0" width="1" height="4" fill="#ffd040"/><rect x="12" y="0" width="1" height="4" fill="#ffd966"/><rect x="13" y="0" width="1" height="4" fill="#ffc926"/><rect x="14" y="0" width="1" height="4" fill="#ffcd33"/><rect x="15" y="0" width="1" height="4" fill="#fff9e6"/><rect x="16" y="0" width="1" height="4" fill="#ffdc73"/><rect x="17" y="0" width="1" height="4" fill="#ffe080"/><rect x="18" y="0" width="1" height="4" fill="#fffcf2"/><rect x="19" y="0" width="1" height="4" fill="#ffdc73"/><rect x="20" y="0" width="1" height="4" fill="#ffd34d"/><rect x="21" y="0" width="1" height="4" fill="#ffe38c"/><rect x="22" y="0" width="1" height="4" fill="#ffd966"/><rect x="23" y="0" width="1" height="4" fill="#ffc30d"/><rect x="24" y="0" width="1" height="4" fill="#ffdc73"/><rect x="25" y="0" width="1" height="4" fill="#ffdc73"/><rect x="26" y="0" width="1" height="4" fill="#ffc926"/><rect x="27" y="0" width="1" height="4" fill="#fff2cc"/><rect x="28" y="0" width="1" height="4" fill="#ffefbf"/><rect x="29" y="0" width="1" height="4" fill="#ffdc73"/><rect x="30" y="0" width="1" height="4" fill="#ffe080"/><rect x="31" y="0" width="1" height="4" fill="#fffcf2"/><rect x="32" y="0" width="1" height="4" fill="#ffd34d"/><rect x="33" y="0" width="1" height="4" fill="#ffdc73"/><rect x="34" y="0" width="1" height="4" fill="#ffe080"/><rect x="35" y="0" width="1" height="4" fill="#ffc926"/><rect x="36" y="0" width="1" height="4" fill="#ffd040"/><rect x="37" y="0" width="1" height="4" fill="#ffdc73"/><rect x="38" y="0" width="1" height="4" fill="#ffd659"/><rect x="39" y="0" width="1" height="4" fill="#ffd966"/><rect x="40" y="0" width="1" height="4" fill="#ffffff"/><rect x="41" y="0" width="1" height="4" fill="#ffe080"/><rect x="42" y="0" width="1" height="4" fill="#ffe080"/><rect x="43" y="0" width="1" height="4" fill="#ffefbf"/><rect x="44" y="0" width="1" height="4" fill="#ffd34d"/><rect x="45" y="0" width="1" height="4" fill="#ffd966"/><rect x="46" y="0" width="1" height="4" fill="#ffdc73"/><rect x="47" y="0" width="1" height="4" fill="#ffd966"/><rect x="48" y="0" width="1" height="4" fill="#ffc30d"/><rect x="49" y="0" width="1" height="4" fill="#ffe38c"/><rect x="50" y="0" width="1" height="4" fill="#ffe38c"/><rect x="51" y="0" width="1" height="4" fill="#ffe080"/><rect x="52" y="0" width="1" height="4" fill="#fff2cc"/><rect x="53" y="0" width="1" height="4" fill="#ffefbf"/><rect x="54" y="0" width="1" height="4" fill="#ffe080"/><rect x="55" y="0" width="1" height="4" fill="#ffe38c"/><rect x="56" y="0" width="1" height="4" fill="#ffecb2"/><rect x="57" y="0" width="1" height="4" fill="#ffc30d"/><rect x="58" y="0" width="1" height="4" fill="#ffdc73"/><rect x="59" y="0" width="1" height="4" fill="#ffdc73"/><rect x="60" y="0" width="1" height="4" fill="#ffcd33"/><rect x="61" y="0" width="1" height="4" fill="#ffd966"/><rect x="62" y="0" width="1" height="4" fill="#fff2cc"/><rect x="63" y="0" width="1" height="4" fill="#ffdc73"/><rect x="64" y="0" width="1" height="4" fill="#ffdc73"/><rect x="65" y="0" width="1" height="4" fill="#fffdf7"/><rect x="66" y="0" width="1" height="4" fill="#ffdc73"/><rect x="67" y="0" width="1" height="4" fill="#ffe38c"/><rect x="68" y="0" width="1" height="4" fill="#ffe9a6"/><rect x="69" y="0" width="1" height="4" fill="#ffc926"/><rect x="70" y="0" width="1" height="4" fill="#ffcd33"/><rect x="71" y="0" width="1" height="4" fill="#ffdc73"/><rect x="72" y="0" width="1" height="4" fill="#ffdc73"/><rect x="73" y="0" width="1" height="4" fill="#ffc619"/><rect x="74" y="0" width="1" height="4" fill="#fffcf2"/><rect x="75" y="0" width="1" height="4" fill="#ffe38c"/><rect x="76" y="0" width="1" height="4" fill="#ffe699"/><rect x="77" y="0" width="1" height="4" fill="#ffecb2"/><rect x="78" y="0" width="1" height="4" fill="#ffefbf"/><rect x="79" y="0" width="1" height="4" fill="#ffd34d"/><rect x="80" y="0" width="1" height="4" fill="#ffdc73"/><rect x="81" y="0" width="1" height="4" fill="#ffe080"/><rect x="82" y="0" width="1" height="4" fill="#ffc30d"/><rect x="83" y="0" width="1" height="4" fill="#ffd966"/><rect x="84" y="0" width="1" height="4" fill="#ffdc73"/><rect x="85" y="0" width="1" height="4" fill="#ffd34d"/><rect x="86" y="0" width="1" height="4" fill="#ffefbf"/><rect x="87" y="0" width="1" height="4" fill="#ffecb2"/><rect x="88" y="0" width="1" height="4" fill="#ffdc73"/><rect x="89" y="0" width="1" height="4" fill="#ffe080"/><rect x="90" y="0" width="1" height="4" fill="#fffcf2"/><rect x="91" y="0" width="1" height="4" fill="#ffd34d"/><rect x="92" y="0" width="1" height="4" fill="#ffd966"/><rect x="93" y="0" width="1" height="4" fill="#ffd34d"/><rect x="94" y="0" width="1" height="4" fill="#ffd966"/><rect x="95" y="0" width="1" height="4" fill="#ffc30d"/><rect x="96" y="0" width="1" height="4" fill="#ffe080"/><rect x="97" y="0" width="1" height="4" fill="#ffdc73"/><rect x="98" y="0" width="1" height="4" fill="#ffd659"/><rect x="99" y="0" width="1" height="4" fill="#fff6d9"/><rect x="100" y="0" width="1" height="4" fill="#ffe080"/><rect x="101" y="0" width="1" height="4" fill="#ffe38c"/><rect x="102" y="0" width="1" height="4" fill="#ffe9a6"/><rect x="103" y="0" width="1" height="4" fill="#ffe9a6"/><rect x="104" y="0" width="1" height="4" fill="#ffc30d"/><rect x="105" y="0" width="1" height="4" fill="#ffdc73"/><rect x="106" y="0" width="1" height="4" fill="#ffdc73"/><rect x="107" y="0" width="1" height="4" fill="#ffc926"/><rect x="108" y="0" width="1" height="4" fill="#ffecb2"/><rect x="109" y="0" width="1" height="4" fill="#ffe699"/><rect x="110" y="0" width="1" height="4" fill="#ffdc73"/><rect x="111" y="0" width="1" height="4" fill="#ffe080"/><rect x="112" y="0" width="1" height="4" fill="#fffcf2"/><rect x="113" y="0" width="1" height="4" fill="#ffdc73"/><rect x="114" y="0" width="1" height="4" fill="#ffdc73"/><rect x="115" y="0" width="1" height="4" fill="#ffe9a6"/><rect x="116" y="0" width="1" height="4" fill="#ffc926"/><rect x="117" y="0" width="1" height="4" fill="#ffd040"/><rect x="118" y="0" width="1" height="4" fill="#ffdc73"/><rect x="119" y="0" width="1" height="4" fill="#ffc926"/><rect x="120" y="0" width="1" height="4" fill="#ffd34d"/><rect x="121" y="0" width="1" height="4" fill="#fffcf2"/><rect x="122" y="0" width="1" height="4" fill="#ffdc73"/><rect x="123" y="0" width="1" height="4" fill="#ffe080"/><rect x="124" y="0" width="1" height="4" fill="#fff2cc"/><rect x="125" y="0" width="1" height="4" fill="#ffdc73"/><rect x="126" y="0" width="1" height="4" fill="#ffd659"/><rect x="127" y="0" width="1" height="4" fill="#ffe080"/><rect x="128" y="0" width="1" height="4" fill="#ffdc73"/><rect x="129" y="0" width="1" height="4" fill="#ffc30d"/><rect x="130" y="0" width="1" height="4" fill="#ffe080"/><rect x="131" y="0" width="1" height="4" fill="#ffdc73"/><rect x="132" y="0" width="1" height="4" fill="#ffd34d"/><rect x="133" y="0" width="1" height="4" fill="#ffefbf"/><rect x="134" y="0" width="1" height="4" fill="#ffecb2"/><rect x="135" y="0" width="1" height="4" fill="#ffe080"/><rect x="136" y="0" width="1" height="4" fill="#ffe080"/><rect x="137" y="0" width="1" height="4" fill="#fffefa"/><rect x="138" y="0" width="1" height="4" fill="#ffd34d"/><rect x="139" y="0" width="1" height="4" fill="#ffd966"/><rect x="140" y="0" width="1" height="4" fill="#ffdc73"/><rect x="141" y="0" width="1" height="4" fill="#ffc926"/><rect x="142" y="0" width="1" height="4" fill="#ffcd33"/><rect x="143" y="0" width="1" height="4" fill="#ffe080"/><rect x="144" y="0" width="1" height="4" fill="#ffdc73"/><rect x="145" y="0" width="1" height="4" fill="#ffd966"/><rect x="146" y="0" width="1" height="4" fill="#fffcf2"/><rect x="147" y="0" width="1" height="4" fill="#ffe080"/><rect x="148" y="0" width="1" height="4" fill="#ffe38c"/><rect x="149" y="0" width="1" height="4" fill="#ffecb2"/><rect x="150" y="0" width="1" height="4" fill="#ffcd33"/><rect x="151" y="0" width="1" height="4" fill="#ffdc73"/><rect x="152" y="0" width="1" height="4" fill="#ffe080"/><rect x="153" y="0" width="1" height="4" fill="#ffe9a6"/><rect x="154" y="0" width="1" height="4" fill="#ffc926"/><rect x="155" y="0" width="1" height="4" fill="#ffe38c"/><rect x="156" y="0" width="1" height="4" fill="#ffe38c"/><rect x="157" y="0" width="1" height="4" fill="#ffdc73"/><rect x="158" y="0" width="1" height="4" fill="#fff9e6"/><rect x="159" y="0" width="1" height="4" fill="#fff6d9"/><rect x="160" y="0" width="1" height="4" fill="#ffe699"/><rect x="161" y="0" width="1" height="4" fill="#ffe9a6"/><rect x="162" y="0" width="1" height="4" fill="#fff2cc"/><rect x="163" y="0" width="1" height="4" fill="#ffd34d"/><rect x="164" y="0" width="1" height="4" fill="#ffdc73"/><rect x="165" y="0" width="1" height="4" fill="#ffe080"/><rect x="166" y="0" width="1" height="4" fill="#ffd966"/><rect x="167" y="0" width="1" height="4" fill="#ffd966"/><rect x="168" y="0" width="1" height="4" fill="#fff9e6"/><rect x="169" y="0" width="1" height="4" fill="#ffe699"/><rect x="170" y="0" width="1" height="4" fill="#ffe9a6"/><rect x="171" y="0" width="1" height="4" fill="#fffcf2"/></pattern><pattern id="pbg" patternUnits="userSpaceOnUse" x="145" y="0" width="172" height="4"><rect x="0" y="0" width="1" height="4" fill="#4e6eb1"/><rect x="1" y="0" width="1" height="4" fill="#4466ac"/><rect x="2" y="0" width="1" height="4" fill="#c4cfe5"/><rect x="3" y="0" width="1" height="4" fill="#9caed4"/><rect x="4" y="0" width="1" height="4" fill="#ced7e9"/><rect x="5" y="0" width="1" height="4" fill="#93a6cf"/><rect x="6" y="0" width="1" height="4" fill="#ebeff6"/><rect x="7" y="0" width="1" height="4" fill="#93a6cf"/><rect x="8" y="0" width="1" height="4" fill="#9caed4"/><rect x="9" y="0" width="1" height="4" fill="#bac7e1"/><rect x="10" y="0" width="1" height="4" fill="#4466ac"/><rect x="11" y="0" width="1" height="4" fill="#6b86be"/><rect x="12" y="0" width="1" height="4" fill="#899ecb"/><rect x="13" y="0" width="1" height="4" fill="#5876b5"/><rect x="14" y="0" width="1" height="4" fill="#617eb9"/><rect x="15" y="0" width="1" height="4" fill="#ebeff6"/><rect x="16" y="0" width="1" height="4" fill="#93a6cf"/><rect x="17" y="0" width="1" height="4" fill="#9caed4"/><rect x="18" y="0" width="1" height="4" fill="#f5f7fb"/><rect x="19" y="0" width="1" height="4" fill="#93a6cf"/><rect x="20" y="0" width="1" height="4" fill="#758ec2"/><rect x="21" y="0" width="1" height="4" fill="#a6b7d8"/><rect x="22" y="0" width="1" height="4" fill="#899ecb"/><rect x="23" y="0" width="1" height="4" fill="#4466ac"/><rect x="24" y="0" width="1" height="4" fill="#93a6cf"/><rect x="25" y="0" width="1" height="4" fill="#93a6cf"/><rect x="26" y="0" width="1" height="4" fill="#5876b5"/><rect x="27" y="0" width="1" height="4" fill="#d8dfee"/><rect x="28" y="0" width="1" height="4" fill="#ced7e9"/><rect x="29" y="0" width="1" height="4" fill="#93a6cf"/><rect x="30" y="0" width="1" height="4" fill="#9caed4"/><rect x="31" y="0" width="1" height="4" fill="#f5f7fb"/><rect x="32" y="0" width="1" height="4" fill="#758ec2"/><rect x="33" y="0" width="1" height="4" fill="#93a6cf"/><rect x="34" y="0" width="1" height="4" fill="#9caed4"/><rect x="35" y="0" width="1" height="4" fill="#5876b5"/><rect x="36" y="0" width="1" height="4" fill="#6b86be"/><rect x="37" y="0" width="1" height="4" fill="#93a6cf"/><rect x="38" y="0" width="1" height="4" fill="#7f96c6"/><rect x="39" y="0" width="1" height="4" fill="#899ecb"/><rect x="40" y="0" width="1" height="4" fill="#ffffff"/><rect x="41" y="0" width="1" height="4" fill="#9caed4"/><rect x="42" y="0" width="1" height="4" fill="#9caed4"/><rect x="43" y="0" width="1" height="4" fill="#ced7e9"/><rect x="44" y="0" width="1" height="4" fill="#758ec2"/><rect x="45" y="0" width="1" height="4" fill="#899ecb"/><rect x="46" y="0" width="1" height="4" fill="#93a6cf"/><rect x="47" y="0" width="1" height="4" fill="#899ecb"/><rect x="48" y="0" width="1" height="4" fill="#4466ac"/><rect x="49" y="0" width="1" height="4" fill="#a6b7d8"/><rect x="50" y="0" width="1" height="4" fill="#a6b7d8"/><rect x="51" y="0" width="1" height="4" fill="#9caed4"/><rect x="52" y="0" width="1" height="4" fill="#d8dfee"/><rect x="53" y="0" width="1" height="4" fill="#ced7e9"/><rect x="54" y="0" width="1" height="4" fill="#9caed4"/><rect x="55" y="0" width="1" height="4" fill="#a6b7d8"/><rect x="56" y="0" width="1" height="4" fill="#c4cfe5"/><rect x="57" y="0" width="1" height="4" fill="#4466ac"/><rect x="58" y="0" width="1" height="4" fill="#93a6cf"/><rect x="59" y="0" width="1" height="4" fill="#93a6cf"/><rect x="60" y="0" width="1" height="4" fill="#617eb9"/><rect x="61" y="0" width="1" height="4" fill="#899ecb"/><rect x="62" y="0" width="1" height="4" fill="#d8dfee"/><rect x="63" y="0" width="1" height="4" fill="#93a6cf"/><rect x="64" y="0" width="1" height="4" fill="#93a6cf"/><rect x="65" y="0" width="1" height="4" fill="#f9fafc"/><rect x="66" y="0" width="1" height="4" fill="#93a6cf"/><rect x="67" y="0" width="1" height="4" fill="#a6b7d8"/><rect x="68" y="0" width="1" height="4" fill="#bac7e1"/><rect x="69" y="0" width="1" height="4" fill="#5876b5"/><rect x="70" y="0" width="1" height="4" fill="#617eb9"/><rect x="71" y="0" width="1" height="4" fill="#93a6cf"/><rect x="72" y="0" width="1" height="4" fill="#93a6cf"/><rect x="73" y="0" width="1" height="4" fill="#4e6eb1"/><rect x="74" y="0" width="1" height="4" fill="#f5f7fb"/><rect x="75" y="0" width="1" height="4" fill="#a6b7d8"/><rect x="76" y="0" width="1" height="4" fill="#b0bfdc"/><rect x="77" y="0" width="1" height="4" fill="#c4cfe5"/><rect x="78" y="0" width="1" height="4" fill="#ced7e9"/><rect x="79" y="0" width="1" height="4" fill="#758ec2"/><rect x="80" y="0" width="1" height="4" fill="#93a6cf"/><rect x="81" y="0" width="1" height="4" fill="#9caed4"/><rect x="82" y="0" width="1" height="4" fill="#4466ac"/><rect x="83" y="0" width="1" height="4" fill="#899ecb"/><rect x="84" y="0" width="1" height="4" fill="#93a6cf"/><rect x="85" y="0" width="1" height="4" fill="#758ec2"/><rect x="86" y="0" width="1" height="4" fill="#ced7e9"/><rect x="87" y="0" width="1" height="4" fill="#c4cfe5"/><rect x="88" y="0" width="1" height="4" fill="#93a6cf"/><rect x="89" y="0" width="1" height="4" fill="#9caed4"/><rect x="90" y="0" width="1" height="4" fill="#f5f7fb"/><rect x="91" y="0" width="1" height="4" fill="#758ec2"/><rect x="92" y="0" width="1" height="4" fill="#899ecb"/><rect x="93" y="0" width="1" height="4" fill="#758ec2"/><rect x="94" y="0" width="1" height="4" fill="#899ecb"/><rect x="95" y="0" width="1" height="4" fill="#4466ac"/><rect x="96" y="0" width="1" height="4" fill="#9caed4"/><rect x="97" y="0" width="1" height="4" fill="#93a6cf"/><rect x="98" y="0" width="1" height="4" fill="#7f96c6"/><rect x="99" y="0" width="1" height="4" fill="#e1e7f2"/><rect x="100" y="0" width="1" height="4" fill="#9caed4"/><rect x="101" y="0" width="1" height="4" fill="#a6b7d8"/><rect x="102" y="0" width="1" height="4" fill="#bac7e1"/><rect x="103" y="0" width="1" height="4" fill="#bac7e1"/><rect x="104" y="0" width="1" height="4" fill="#4466ac"/><rect x="105" y="0" width="1" height="4" fill="#93a6cf"/><rect x="106" y="0" width="1" height="4" fill="#93a6cf"/><rect x="107" y="0" width="1" height="4" fill="#5876b5"/><rect x="108" y="0" width="1" height="4" fill="#c4cfe5"/><rect x="109" y="0" width="1" height="4" fill="#b0bfdc"/><rect x="110" y="0" width="1" height="4" fill="#93a6cf"/><rect x="111" y="0" width="1" height="4" fill="#9caed4"/><rect x="112" y="0" width="1" height="4" fill="#f5f7fb"/><rect x="113" y="0" width="1" height="4" fill="#93a6cf"/><rect x="114" y="0" width="1" height="4" fill="#93a6cf"/><rect x="115" y="0" width="1" height="4" fill="#bac7e1"/><rect x="116" y="0" width="1" height="4" fill="#5876b5"/><rect x="117" y="0" width="1" height="4" fill="#6b86be"/><rect x="118" y="0" width="1" height="4" fill="#93a6cf"/><rect x="119" y="0" width="1" height="4" fill="#5876b5"/><rect x="120" y="0" width="1" height="4" fill="#758ec2"/><rect x="121" y="0" width="1" height="4" fill="#f5f7fb"/><rect x="122" y="0" width="1" height="4" fill="#93a6cf"/><rect x="123" y="0" width="1" height="4" fill="#9caed4"/><rect x="124" y="0" width="1" height="4" fill="#d8dfee"/><rect x="125" y="0" width="1" height="4" fill="#93a6cf"/><rect x="126" y="0" width="1" height="4" fill="#7f96c6"/><rect x="127" y="0" width="1" height="4" fill="#9caed4"/><rect x="128" y="0" width="1" height="4" fill="#93a6cf"/><rect x="129" y="0" width="1" height="4" fill="#4466ac"/><rect x="130" y="0" width="1" height="4" fill="#9caed4"/><rect x="131" y="0" width="1" height="4" fill="#93a6cf"/><rect x="132" y="0" width="1" height="4" fill="#758ec2"/><rect x="133" y="0" width="1" height="4" fill="#ced7e9"/><rect x="134" y="0" width="1" height="4" fill="#c4cfe5"/><rect x="135" y="0" width="1" height="4" fill="#9caed4"/><rect x="136" y="0" width="1" height="4" fill="#9caed4"/><rect x="137" y="0" width="1" height="4" fill="#fbfcfd"/><rect x="138" y="0" width="1" height="4" fill="#758ec2"/><rect x="139" y="0" width="1" height="4" fill="#899ecb"/><rect x="140" y="0" width="1" height="4" fill="#93a6cf"/><rect x="141" y="0" width="1" height="4" fill="#5876b5"/><rect x="142" y="0" width="1" height="4" fill="#617eb9"/><rect x="143" y="0" width="1" height="4" fill="#9caed4"/><rect x="144" y="0" width="1" height="4" fill="#93a6cf"/><rect x="145" y="0" width="1" height="4" fill="#899ecb"/><rect x="146" y="0" width="1" height="4" fill="#f5f7fb"/><rect x="147" y="0" width="1" height="4" fill="#9caed4"/><rect x="148" y="0" width="1" height="4" fill="#a6b7d8"/><rect x="149" y="0" width="1" height="4" fill="#c4cfe5"/><rect x="150" y="0" width="1" height="4" fill="#617eb9"/><rect x="151" y="0" width="1" height="4" fill="#93a6cf"/><rect x="152" y="0" width="1" height="4" fill="#9caed4"/><rect x="153" y="0" width="1" height="4" fill="#bac7e1"/><rect x="154" y="0" width="1" height="4" fill="#5876b5"/><rect x="155" y="0" width="1" height="4" fill="#a6b7d8"/><rect x="156" y="0" width="1" height="4" fill="#a6b7d8"/><rect x="157" y="0" width="1" height="4" fill="#93a6cf"/><rect x="158" y="0" width="1" height="4" fill="#ebeff6"/><rect x="159" y="0" width="1" height="4" fill="#e1e7f2"/><rect x="160" y="0" width="1" height="4" fill="#b0bfdc"/><rect x="161" y="0" width="1" height="4" fill="#bac7e1"/><rect x="162" y="0" width="1" height="4" fill="#d8dfee"/><rect x="163" y="0" width="1" height="4" fill="#758ec2"/><rect x="164" y="0" width="1" height="4" fill="#93a6cf"/><rect x="165" y="0" width="1" height="4" fill="#9caed4"/><rect x="166" y="0" width="1" height="4" fill="#899ecb"/><rect x="167" y="0" width="1" height="4" fill="#899ecb"/><rect x="168" y="0" width="1" height="4" fill="#ebeff6"/><rect x="169" y="0" width="1" height="4" fill="#b0bfdc"/><rect x="170" y="0" width="1" height="4" fill="#bac7e1"/><rect x="171" y="0" width="1" height="4" fill="#f5f7fb"/></pattern><pattern id="pxg" patternUnits="userSpaceOnUse" x="0" y="0" width="3" height="4"><rect x="0" y="0" width="1" height="4" fill="#c7a085"/><rect x="1" y="0" width="1" height="4" fill="#f8f1ec"/><rect x="2" y="0" width="1" height="4" fill="#8b4513"/></pattern><pattern id="pxh" patternUnits="userSpaceOnUse" x="0" y="0" width="3" height="4"><rect x="0" y="0" width="1" height="4" fill="#9c5c34"/><rect x="1" y="0" width="1" height="4" fill="#f8f1ec"/><rect x="2" y="0" width="1" height="4" fill="#8e4818"/></pattern><pattern id="pog" patternUnits="userSpaceOnUse" x="0" y="0" width="4" height="3"><rect x="0" y="0" width="4" height="1" fill="#d0d0d0"/><rect x="0" y="1" width="4" height="1" fill="#e8e8e8"/><rect x="0" y="2" width="4" height="1" fill="#f3f3f3"/></pattern></defs><rect x="145.90" y="13" width="3.10" height="22.00" fill="#0d0d0d"/><rect x="149.00" y="13" width="146.20" height="22.00" fill="#ff0000"/><rect x="295.20" y="13" width="41.50" height="22.00" fill="#c00000"/><rect x="336.70" y="13" width="13.30" height="22.00" fill="#d9969a"/><rect x="350.00" y="13" width="18.00" height="22.00" fill="#f9bcbf"/><rect x="368.00" y="13" width="7.00" height="22.00" fill="#843c0c"/><rect x="375.00" y="13" width="70.90" height="22.00" fill="#c55a11"/><rect x="445.90" y="13" width="7.40" height="22.00" fill="#ed7d31"/><rect x="453.30" y="13" width="15.10" height="22.00" fill="#ffc000"/><rect x="468.40" y="13" width="18.80" height="22.00" fill="#fff2cc"/><rect x="487.20" y="13" width="40.70" height="22.00" fill="#d9d9d9"/><rect x="145.00" y="38" width="3.30" height="19.80" fill="#0d0d0d"/><rect x="148.30" y="38" width="164.80" height="19.80" fill="#ff0000"/><rect x="313.10" y="38" width="41.40" height="19.80" fill="#c00000"/><rect x="354.50" y="38" width="19.25" height="19.80" fill="#d9969a"/><rect x="373.75" y="38" width="29.25" height="19.80" fill="#f9bcbf"/><rect x="403.00" y="38" width="8.90" height="19.80" fill="#843c0c"/><rect x="411.90" y="38" width="94.00" height="19.80" fill="#c55a11"/><rect x="505.90" y="38" width="13.90" height="19.80" fill="#ed7d31"/><rect x="519.80" y="38" width="16.60" height="19.80" fill="#ffc000"/><rect x="536.40" y="38" width="35.90" height="19.80" fill="#fff2cc"/><rect x="572.30" y="38" width="62.30" height="19.80" fill="#d9d9d9"/><text x="91.3" y="45.65" text-anchor="end" font-size="17.8">China</text><text x="113.3" y="34.3" font-size="15">'11</text><text x="113.3" y="52.0" font-size="15">'15</text><rect x="145.90" y="65" width="120.10" height="21.70" fill="url(#peg)"/><rect x="266.00" y="65" width="6.20" height="21.70" fill="url(#pmg)"/><rect x="272.20" y="65" width="6.00" height="21.70" fill="url(#pcg)"/><rect x="278.20" y="65" width="6.80" height="21.70" fill="url(#ptg)"/><rect x="285.00" y="65" width="1.70" height="21.70" fill="#fff2cc"/><rect x="286.70" y="65" width="11.60" height="21.70" fill="url(#pxg)"/><rect x="298.30" y="65" width="1.60" height="21.70" fill="#808080"/><rect x="299.90" y="65" width="3.10" height="21.70" fill="#ffd555"/><rect x="303.00" y="65" width="1.70" height="21.70" fill="#ffeaa8"/><rect x="304.70" y="65" width="0.60" height="21.70" fill="#f6f2f0"/><rect x="305.30" y="65" width="2.40" height="21.70" fill="#8ea6d8"/><rect x="307.70" y="65" width="3.40" height="21.70" fill="url(#pog)"/><rect x="145.00" y="89.25" width="83.10" height="19.75" fill="url(#peg)"/><rect x="228.10" y="89.25" width="3.90" height="19.75" fill="url(#pmg)"/><rect x="232.00" y="89.25" width="3.70" height="19.75" fill="url(#pcg)"/><rect x="235.70" y="89.25" width="2.70" height="19.75" fill="url(#ptg)"/><rect x="238.40" y="89.25" width="1.10" height="19.75" fill="#fff2cc"/><rect x="239.50" y="89.25" width="1.30" height="19.75" fill="#8e4a1e"/><rect x="240.80" y="89.25" width="1.70" height="19.75" fill="#f6f2f0"/><rect x="242.50" y="89.25" width="1.40" height="19.75" fill="#8e4a1e"/><rect x="243.90" y="89.25" width="0.30" height="19.75" fill="#f6f2f0"/><rect x="244.20" y="89.25" width="1.00" height="19.75" fill="#808080"/><rect x="245.20" y="89.25" width="2.00" height="19.75" fill="url(#prg)"/><rect x="247.20" y="89.25" width="3.40" height="19.75" fill="url(#pbg)"/><rect x="250.60" y="89.25" width="6.10" height="19.75" fill="url(#pog)"/><text x="91.3" y="94" text-anchor="end" font-size="17.8">Korea</text><text x="113.3" y="84.5" font-size="15">'11</text><text x="113.3" y="102.5" font-size="15">'15</text><rect x="145.90" y="116.1" width="4.10" height="23.30" fill="#0d0d0d"/><rect x="150.00" y="116.1" width="144.60" height="23.30" fill="url(#peg)"/><rect x="294.60" y="116.1" width="8.90" height="23.30" fill="url(#pmg)"/><rect x="303.50" y="116.1" width="10.50" height="23.30" fill="url(#pcg)"/><rect x="314.00" y="116.1" width="2.50" height="23.30" fill="url(#ptg)"/><rect x="316.50" y="116.1" width="1.30" height="23.30" fill="#fff2cc"/><rect x="317.80" y="116.1" width="1.80" height="23.30" fill="#8e4a1e"/><rect x="319.60" y="116.1" width="11.40" height="23.30" fill="url(#pxg)"/><rect x="331.00" y="116.1" width="2.50" height="23.30" fill="#808080"/><rect x="333.50" y="116.1" width="4.30" height="23.30" fill="#ffd555"/><rect x="337.80" y="116.1" width="1.00" height="23.30" fill="#f6f2f0"/><rect x="338.80" y="116.1" width="2.50" height="23.30" fill="#8ea6d8"/><rect x="341.30" y="116.1" width="0.90" height="23.30" fill="#f6f2f0"/><rect x="342.20" y="116.1" width="5.80" height="23.30" fill="url(#pog)"/><rect x="145.00" y="142" width="4.70" height="17.90" fill="#0d0d0d"/><rect x="149.70" y="142" width="78.80" height="17.90" fill="url(#peg)"/><rect x="228.50" y="142" width="3.20" height="17.90" fill="url(#pmg)"/><rect x="231.70" y="142" width="4.00" height="17.90" fill="url(#pcg)"/><rect x="235.70" y="142" width="3.10" height="17.90" fill="url(#ptg)"/><rect x="238.80" y="142" width="5.50" height="17.90" fill="url(#pxg)"/><rect x="244.30" y="142" width="2.90" height="17.90" fill="url(#prg)"/><rect x="247.20" y="142" width="3.10" height="17.90" fill="url(#pbg)"/><rect x="250.30" y="142" width="4.70" height="17.90" fill="url(#pog)"/><text x="91.3" y="145.5" text-anchor="end" font-size="17.8">Malaysia</text><text x="113.3" y="134" font-size="15">'11</text><text x="113.3" y="152" font-size="15">'15</text><rect x="145.90" y="168.1" width="114.60" height="21.70" fill="url(#peg)"/><rect x="260.50" y="168.1" width="5.00" height="21.70" fill="url(#pmg)"/><rect x="265.50" y="168.1" width="9.00" height="21.70" fill="url(#pcg)"/><rect x="274.50" y="168.1" width="2.00" height="21.70" fill="url(#ptg)"/><rect x="276.50" y="168.1" width="1.00" height="21.70" fill="#fff2cc"/><rect x="277.50" y="168.1" width="1.00" height="21.70" fill="#c09060"/><rect x="278.50" y="168.1" width="3.00" height="21.70" fill="#f6f2f0"/><rect x="281.50" y="168.1" width="9.80" height="21.70" fill="url(#pxg)"/><rect x="291.30" y="168.1" width="2.80" height="21.70" fill="#808080"/><rect x="294.10" y="168.1" width="4.70" height="21.70" fill="url(#prg)"/><rect x="298.80" y="168.1" width="1.60" height="21.70" fill="url(#pbg)"/><rect x="300.40" y="168.1" width="5.00" height="21.70" fill="url(#pog)"/><rect x="145.00" y="193" width="69.40" height="17.90" fill="url(#peg)"/><rect x="214.40" y="193" width="4.70" height="17.90" fill="url(#pmg)"/><rect x="219.10" y="193" width="3.50" height="17.90" fill="url(#pcg)"/><rect x="222.60" y="193" width="1.80" height="17.90" fill="url(#ptg)"/><rect x="224.40" y="193" width="5.00" height="17.90" fill="url(#pxg)"/><rect x="229.40" y="193" width="1.00" height="17.90" fill="#808080"/><rect x="230.40" y="193" width="3.60" height="17.90" fill="url(#prg)"/><rect x="234.00" y="193" width="3.00" height="17.90" fill="url(#pbg)"/><rect x="237.00" y="193" width="4.00" height="17.90" fill="url(#pog)"/><text x="91.3" y="197.5" text-anchor="end" font-size="17.8">Singapore</text><text x="113.3" y="187.5" font-size="15">'11</text><text x="113.3" y="205.75" font-size="15">'15</text><rect x="145.90" y="219.2" width="9.40" height="22.20" fill="#0d0d0d"/><rect x="155.30" y="219.2" width="63.80" height="22.20" fill="url(#peg)"/><rect x="219.10" y="219.2" width="4.10" height="22.20" fill="url(#pmg)"/><rect x="223.20" y="219.2" width="6.40" height="22.20" fill="url(#pcg)"/><rect x="229.60" y="219.2" width="2.90" height="22.20" fill="url(#ptg)"/><rect x="232.50" y="219.2" width="1.90" height="22.20" fill="#c09060"/><rect x="234.40" y="219.2" width="13.00" height="22.20" fill="url(#pxg)"/><rect x="247.40" y="219.2" width="2.40" height="22.20" fill="#808080"/><rect x="249.80" y="219.2" width="4.90" height="22.20" fill="url(#prg)"/><rect x="254.70" y="219.2" width="1.10" height="22.20" fill="url(#pbg)"/><rect x="255.80" y="219.2" width="4.80" height="22.20" fill="url(#pog)"/><rect x="145.00" y="244" width="9.00" height="18.20" fill="#0d0d0d"/><rect x="154.00" y="244" width="43.30" height="18.20" fill="url(#peg)"/><rect x="197.30" y="244" width="4.90" height="18.20" fill="url(#pmg)"/><rect x="202.20" y="244" width="4.00" height="18.20" fill="url(#ptg)"/><rect x="206.20" y="244" width="17.80" height="18.20" fill="url(#pxg)"/><rect x="224.00" y="244" width="0.80" height="18.20" fill="#808080"/><rect x="224.80" y="244" width="2.40" height="18.20" fill="url(#prg)"/><rect x="227.20" y="244" width="1.60" height="18.20" fill="url(#pbg)"/><rect x="228.80" y="244" width="6.50" height="18.20" fill="url(#pog)"/><text x="91.3" y="248.75" text-anchor="end" font-size="17.8">Thaiand</text><text x="113.3" y="237.5" font-size="15">'11</text><text x="113.3" y="255.75" font-size="15">'15</text><rect x="145.90" y="271" width="89.40" height="22.50" fill="url(#peg)"/><rect x="235.30" y="271" width="3.00" height="22.50" fill="url(#pmg)"/><rect x="238.30" y="271" width="4.20" height="22.50" fill="url(#pcg)"/><rect x="242.50" y="271" width="1.30" height="22.50" fill="#c09060"/><rect x="243.80" y="271" width="1.30" height="22.50" fill="#f6f2f0"/><rect x="245.10" y="271" width="2.10" height="22.50" fill="#8e4a1e"/><rect x="247.20" y="271" width="1.30" height="22.50" fill="#f6f2f0"/><rect x="248.50" y="271" width="1.30" height="22.50" fill="url(#prg)"/><rect x="249.80" y="271" width="2.10" height="22.50" fill="url(#pbg)"/><rect x="251.90" y="271" width="2.40" height="22.50" fill="url(#pog)"/><rect x="145.00" y="296.5" width="50.60" height="17.20" fill="url(#peg)"/><rect x="195.60" y="296.5" width="4.20" height="17.20" fill="url(#ptg)"/><rect x="199.80" y="296.5" width="1.00" height="17.20" fill="#f6f2f0"/><rect x="200.80" y="296.5" width="2.10" height="17.20" fill="#8e4a1e"/><rect x="202.90" y="296.5" width="1.30" height="17.20" fill="#f6f2f0"/><rect x="204.20" y="296.5" width="1.80" height="17.20" fill="#8e4a1e"/><rect x="206.00" y="296.5" width="1.30" height="17.20" fill="url(#prg)"/><rect x="207.30" y="296.5" width="0.60" height="17.20" fill="#f6f2f0"/><rect x="207.90" y="296.5" width="2.10" height="17.20" fill="url(#pbg)"/><rect x="210.00" y="296.5" width="3.90" height="17.20" fill="url(#pog)"/><text x="91.3" y="301.25" text-anchor="end" font-size="17.8">Philippines</text><text x="113.3" y="291.25" font-size="15">'11</text><text x="113.3" y="309.5" font-size="15">'15</text><rect x="145.90" y="322.8" width="4.90" height="21.70" fill="#0d0d0d"/><rect x="150.80" y="322.8" width="38.40" height="21.70" fill="url(#peg)"/><rect x="189.20" y="322.8" width="5.00" height="21.70" fill="url(#pmg)"/><rect x="194.20" y="322.8" width="5.40" height="21.70" fill="url(#ptg)"/><rect x="199.60" y="322.8" width="1.40" height="21.70" fill="#f6f2f0"/><rect x="201.00" y="322.8" width="1.90" height="21.70" fill="#9a6040"/><rect x="202.90" y="322.8" width="1.90" height="21.70" fill="url(#prg)"/><rect x="204.80" y="322.8" width="1.20" height="21.70" fill="url(#pbg)"/><rect x="206.00" y="322.8" width="0.80" height="21.70" fill="url(#pog)"/><rect x="145.00" y="347.4" width="5.40" height="17.10" fill="#0d0d0d"/><rect x="150.40" y="347.4" width="16.60" height="17.10" fill="url(#peg)"/><rect x="167.00" y="347.4" width="2.20" height="17.10" fill="url(#pmg)"/><rect x="169.20" y="347.4" width="2.50" height="17.10" fill="url(#ptg)"/><rect x="171.70" y="347.4" width="1.20" height="17.10" fill="#8e4a1e"/><rect x="172.90" y="347.4" width="2.10" height="17.10" fill="#f6f2f0"/><rect x="175.00" y="347.4" width="0.80" height="17.10" fill="#8e4a1e"/><rect x="175.80" y="347.4" width="1.70" height="17.10" fill="#f6f2f0"/><rect x="177.50" y="347.4" width="2.10" height="17.10" fill="#8e4a1e"/><rect x="179.60" y="347.4" width="2.90" height="17.10" fill="url(#prg)"/><rect x="182.50" y="347.4" width="0.40" height="17.10" fill="#f6f2f0"/><rect x="182.90" y="347.4" width="1.30" height="17.10" fill="url(#pbg)"/><rect x="184.20" y="347.4" width="0.40" height="17.10" fill="#f6f2f0"/><rect x="184.60" y="347.4" width="5.20" height="17.10" fill="url(#pog)"/><text x="91.3" y="353" text-anchor="end" font-size="17.8">Japan</text><text x="113.3" y="341.25" font-size="15">'11</text><text x="113.3" y="359.5" font-size="15">'15</text><rect x="145.90" y="374.3" width="39.70" height="22.20" fill="url(#peg)"/><rect x="185.60" y="374.3" width="3.50" height="22.20" fill="url(#pmg)"/><rect x="189.10" y="374.3" width="5.30" height="22.20" fill="url(#pcg)"/><rect x="194.40" y="374.3" width="2.90" height="22.20" fill="url(#ptg)"/><rect x="197.30" y="374.3" width="0.90" height="22.20" fill="#fff2cc"/><rect x="198.20" y="374.3" width="15.00" height="22.20" fill="url(#pxh)"/><rect x="213.20" y="374.3" width="4.40" height="22.20" fill="#808080"/><rect x="217.60" y="374.3" width="1.40" height="22.20" fill="url(#prg)"/><rect x="219.00" y="374.3" width="3.00" height="22.20" fill="url(#pbg)"/><rect x="222.00" y="374.3" width="5.80" height="22.20" fill="url(#pog)"/><rect x="145.00" y="399" width="21.60" height="16.70" fill="url(#peg)"/><rect x="166.60" y="399" width="2.30" height="16.70" fill="url(#pmg)"/><rect x="168.90" y="399" width="3.10" height="16.70" fill="url(#ptg)"/><rect x="172.00" y="399" width="1.80" height="16.70" fill="#fff2cc"/><rect x="173.80" y="399" width="1.00" height="16.70" fill="#f6f2f0"/><rect x="174.80" y="399" width="1.10" height="16.70" fill="#8e4a1e"/><rect x="175.90" y="399" width="1.70" height="16.70" fill="#f6f2f0"/><rect x="177.60" y="399" width="1.40" height="16.70" fill="url(#prg)"/><rect x="179.00" y="399" width="0.60" height="16.70" fill="url(#pbg)"/><rect x="179.60" y="399" width="2.50" height="16.70" fill="url(#pog)"/><text x="91.3" y="402.5" text-anchor="end" font-size="17.8">Vietnam</text><text x="113.3" y="390.75" font-size="15">'11</text><text x="113.3" y="408.75" font-size="15">'15</text><rect x="145.90" y="426" width="42.40" height="22.00" fill="url(#peg)"/><rect x="188.30" y="426" width="5.80" height="22.00" fill="url(#pmg)"/><rect x="194.10" y="426" width="7.20" height="22.00" fill="url(#pcg)"/><rect x="201.30" y="426" width="6.50" height="22.00" fill="url(#ptg)"/><rect x="207.80" y="426" width="1.30" height="22.00" fill="#fff2cc"/><rect x="209.10" y="426" width="7.80" height="22.00" fill="url(#pxg)"/><rect x="216.90" y="426" width="1.60" height="22.00" fill="#808080"/><rect x="218.50" y="426" width="3.60" height="22.00" fill="url(#prg)"/><rect x="222.10" y="426" width="6.50" height="22.00" fill="url(#pbg)"/><rect x="228.60" y="426" width="6.50" height="22.00" fill="url(#pog)"/><rect x="145.00" y="451" width="15.20" height="16.10" fill="url(#peg)"/><rect x="160.20" y="451" width="2.70" height="16.10" fill="url(#pmg)"/><rect x="162.90" y="451" width="5.00" height="16.10" fill="url(#ptg)"/><rect x="167.90" y="451" width="1.20" height="16.10" fill="#f6f2f0"/><rect x="169.10" y="451" width="1.30" height="16.10" fill="#8e4a1e"/><rect x="170.40" y="451" width="1.40" height="16.10" fill="#857a55"/><rect x="171.80" y="451" width="0.40" height="16.10" fill="#f6f2f0"/><rect x="172.20" y="451" width="1.60" height="16.10" fill="url(#pog)"/><text x="91.3" y="452.5" text-anchor="end" font-size="17.8">Brunei</text><text x="113.3" y="443" font-size="15">'11</text><text x="113.3" y="460.75" font-size="15">'15</text><rect x="145.90" y="477.3" width="2.40" height="21.80" fill="#0d0d0d"/><rect x="148.30" y="477.3" width="22.10" height="21.80" fill="url(#peg)"/><rect x="170.40" y="477.3" width="1.70" height="21.80" fill="url(#pmg)"/><rect x="172.10" y="477.3" width="6.30" height="21.80" fill="url(#ptg)"/><rect x="178.40" y="477.3" width="1.90" height="21.80" fill="#fff2cc"/><rect x="180.30" y="477.3" width="2.00" height="21.80" fill="#8e4a1e"/><rect x="182.30" y="477.3" width="1.20" height="21.80" fill="#f6f2f0"/><rect x="183.50" y="477.3" width="1.50" height="21.80" fill="#8e4a1e"/><rect x="185.00" y="477.3" width="0.80" height="21.80" fill="#f6f2f0"/><rect x="185.80" y="477.3" width="1.00" height="21.80" fill="#808080"/><rect x="186.80" y="477.3" width="2.90" height="21.80" fill="url(#prg)"/><rect x="189.70" y="477.3" width="2.00" height="21.80" fill="url(#pbg)"/><rect x="191.70" y="477.3" width="3.90" height="21.80" fill="url(#pog)"/><rect x="145.00" y="502" width="3.10" height="16.00" fill="#0d0d0d"/><rect x="148.10" y="502" width="8.10" height="16.00" fill="url(#peg)"/><rect x="156.20" y="502" width="1.60" height="16.00" fill="url(#pmg)"/><rect x="157.80" y="502" width="1.30" height="16.00" fill="url(#ptg)"/><rect x="159.10" y="502" width="0.60" height="16.00" fill="#f6f2f0"/><rect x="159.70" y="502" width="2.00" height="16.00" fill="#8e4a1e"/><rect x="161.70" y="502" width="1.20" height="16.00" fill="#f6f2f0"/><rect x="162.90" y="502" width="1.10" height="16.00" fill="#8e4a1e"/><rect x="164.00" y="502" width="1.00" height="16.00" fill="url(#prg)"/><rect x="165.00" y="502" width="1.00" height="16.00" fill="url(#pbg)"/><rect x="166.00" y="502" width="3.50" height="16.00" fill="url(#pog)"/><text x="91.3" y="501.75" text-anchor="end" font-size="17.8">Indonesia</text><text x="113.3" y="495" font-size="15">'11</text><text x="113.3" y="513" font-size="15">'15</text><rect x="145.90" y="528.8" width="14.30" height="22.10" fill="url(#peg)"/><rect x="160.20" y="528.8" width="2.70" height="22.10" fill="url(#pmg)"/><rect x="162.90" y="528.8" width="1.10" height="22.10" fill="#f6f2f0"/><rect x="164.00" y="528.8" width="2.40" height="22.10" fill="url(#ptg)"/><rect x="166.40" y="528.8" width="1.50" height="22.10" fill="#fff2cc"/><rect x="167.90" y="528.8" width="1.20" height="22.10" fill="#f6f2f0"/><rect x="169.10" y="528.8" width="1.50" height="22.10" fill="#8e4a1e"/><rect x="170.60" y="528.8" width="1.20" height="22.10" fill="#f6f2f0"/><rect x="171.80" y="528.8" width="1.40" height="22.10" fill="#8e4a1e"/><rect x="173.20" y="528.8" width="1.60" height="22.10" fill="#f6f2f0"/><rect x="174.80" y="528.8" width="1.30" height="22.10" fill="#8e4a1e"/><rect x="176.10" y="528.8" width="1.50" height="22.10" fill="#808080"/><rect x="177.60" y="528.8" width="1.40" height="22.10" fill="url(#prg)"/><rect x="179.00" y="528.8" width="1.00" height="22.10" fill="url(#pbg)"/><rect x="180.00" y="528.8" width="1.90" height="22.10" fill="url(#pog)"/><rect x="145.00" y="554" width="12.80" height="15.20" fill="url(#peg)"/><rect x="157.80" y="554" width="1.20" height="15.20" fill="url(#pmg)"/><rect x="159.00" y="554" width="0.70" height="15.20" fill="#f6f2f0"/><rect x="159.70" y="554" width="2.00" height="15.20" fill="#8e4a1e"/><rect x="161.70" y="554" width="1.20" height="15.20" fill="#f6f2f0"/><rect x="162.90" y="554" width="1.10" height="15.20" fill="#8e4a1e"/><rect x="164.00" y="554" width="1.00" height="15.20" fill="url(#prg)"/><rect x="165.00" y="554" width="0.20" height="15.20" fill="#f6f2f0"/><rect x="165.20" y="554" width="0.90" height="15.20" fill="url(#pbg)"/><rect x="166.10" y="554" width="2.60" height="15.20" fill="url(#pog)"/><text x="91.3" y="553.25" text-anchor="end" font-size="17.8">Cambodia</text><text x="113.3" y="546.25" font-size="15">'11</text><text x="113.3" y="564.5" font-size="15">'15</text><rect x="145.90" y="580.6" width="73.60" height="22.00" fill="url(#peg)"/><rect x="219.50" y="580.6" width="12.40" height="22.00" fill="url(#pmg)"/><rect x="231.90" y="580.6" width="12.40" height="22.00" fill="url(#pcg)"/><rect x="244.30" y="580.6" width="2.80" height="22.00" fill="url(#ptg)"/><rect x="247.10" y="580.6" width="0.90" height="22.00" fill="#fff2cc"/><rect x="248.00" y="580.6" width="19.70" height="22.00" fill="url(#pxh)"/><rect x="267.70" y="580.6" width="3.80" height="22.00" fill="#808080"/><rect x="271.50" y="580.6" width="4.20" height="22.00" fill="url(#prg)"/><rect x="275.70" y="580.6" width="4.30" height="22.00" fill="url(#pbg)"/><rect x="280.00" y="580.6" width="7.00" height="22.00" fill="url(#pog)"/><rect x="145.00" y="605.6" width="9.90" height="14.40" fill="url(#peg)"/><rect x="154.90" y="605.6" width="3.90" height="14.40" fill="url(#pmg)"/><rect x="158.80" y="605.6" width="1.00" height="14.40" fill="url(#ptg)"/><rect x="159.80" y="605.6" width="2.50" height="14.40" fill="#8e4a1e"/><rect x="162.30" y="605.6" width="1.50" height="14.40" fill="url(#pbg)"/><rect x="163.80" y="605.6" width="3.00" height="14.40" fill="url(#pog)"/><text x="91.3" y="605" text-anchor="end" font-size="17.8">Hong Kong</text><text x="113.3" y="598" font-size="15">'11</text><text x="113.3" y="616.25" font-size="15">'15</text><rect x="144" y="20.7" width="1" height="614.3" fill="#868686"/><rect x="144" y="634" width="601.5" height="1" fill="#868686"/><text x="145" y="658.7" text-anchor="middle" font-size="15.5" transform="translate(0 658.7) scale(1 1.08) translate(0 -658.7)">0%</text><text x="295" y="658.7" text-anchor="middle" font-size="15.5" transform="translate(0 658.7) scale(1 1.08) translate(0 -658.7)">1%</text><text x="445" y="658.7" text-anchor="middle" font-size="15.5" transform="translate(0 658.7) scale(1 1.08) translate(0 -658.7)">2%</text><text x="595" y="658.7" text-anchor="middle" font-size="15.5" transform="translate(0 658.7) scale(1 1.08) translate(0 -658.7)">3%</text><text x="745" y="658.7" text-anchor="middle" font-size="15.5" transform="translate(0 658.7) scale(1 1.08) translate(0 -658.7)">4%</text><rect x="133" y="644" width="9" height="5" fill="#fff"/><text x="420.5" y="685.5" text-anchor="middle" font-size="15.5" xml:space="preserve">%  of GDP</text><rect x="496" y="169.70" width="8" height="8" fill="#0d0d0d"/><text x="508.3" y="178.00" font-size="15.7">Steel &amp; Aluminum (Direct)</text><rect x="496" y="191.16" width="8" height="8" fill="#ff0000"/><text x="508.3" y="199.46" font-size="15.7">Electronics (Direct)</text><rect x="496" y="212.62" width="8" height="8" fill="#c00000"/><text x="508.3" y="220.92" font-size="15.7">Machinery (Direct)</text><rect x="496" y="234.08" width="8" height="8" fill="#d9969a"/><text x="508.3" y="242.38" font-size="15.7">Chemical (Direct)</text><rect x="496" y="255.54" width="8" height="8" fill="#f9bcbf"/><text x="508.3" y="263.84" font-size="15.7">Transport (Direct)</text><rect x="496" y="277.00" width="1" height="8" fill="#c92626"/><rect x="497" y="277.00" width="1" height="8" fill="#dc7373"/><rect x="498" y="277.00" width="1" height="8" fill="#c30d0d"/><rect x="499" y="277.00" width="1" height="8" fill="#e08080"/><rect x="500" y="277.00" width="1" height="8" fill="#dc7373"/><rect x="501" y="277.00" width="1" height="8" fill="#d96666"/><rect x="502" y="277.00" width="1" height="8" fill="#f9e6e6"/><rect x="503" y="277.00" width="1" height="8" fill="#e69999"/><rect x="504" y="277.00" width="1" height="8" fill="#ecb2b2"/><text x="508.3" y="285.30" font-size="15.7">Electronics (China GVC)</text><rect x="496" y="298.46" width="1" height="8" fill="#e86e58"/><rect x="497" y="298.46" width="1" height="8" fill="#f0a293"/><rect x="498" y="298.46" width="1" height="8" fill="#e55e44"/><rect x="499" y="298.46" width="1" height="8" fill="#f2aa9c"/><rect x="500" y="298.46" width="1" height="8" fill="#f0a293"/><rect x="501" y="298.46" width="1" height="8" fill="#ef9989"/><rect x="502" y="298.46" width="1" height="8" fill="#fceeeb"/><rect x="503" y="298.46" width="1" height="8" fill="#f4bbb0"/><rect x="504" y="298.46" width="1" height="8" fill="#f7ccc4"/><text x="508.3" y="306.76" font-size="15.7">Machinery (China GVC)</text><rect x="496" y="319.92" width="1" height="8" fill="#dc9ca9"/><rect x="497" y="319.92" width="1" height="8" fill="#e8bfc7"/><rect x="498" y="319.92" width="1" height="8" fill="#d8909f"/><rect x="499" y="319.92" width="1" height="8" fill="#eac4cc"/><rect x="500" y="319.92" width="1" height="8" fill="#e8bfc7"/><rect x="501" y="319.92" width="1" height="8" fill="#e6b9c2"/><rect x="502" y="319.92" width="1" height="8" fill="#fbf3f5"/><rect x="503" y="319.92" width="1" height="8" fill="#efd0d7"/><rect x="504" y="319.92" width="1" height="8" fill="#f3dce1"/><text x="508.3" y="328.22" font-size="15.7">Chemical (China GVC)</text><rect x="496" y="341.38" width="1" height="8" fill="#edc6d0"/><rect x="497" y="341.38" width="1" height="8" fill="#f3dae1"/><rect x="498" y="341.38" width="1" height="8" fill="#ebbfcb"/><rect x="499" y="341.38" width="1" height="8" fill="#f4dee4"/><rect x="500" y="341.38" width="1" height="8" fill="#f3dae1"/><rect x="501" y="341.38" width="1" height="8" fill="#f2d7de"/><rect x="502" y="341.38" width="1" height="8" fill="#fdf8fa"/><rect x="503" y="341.38" width="1" height="8" fill="#f7e4e9"/><rect x="504" y="341.38" width="1" height="8" fill="#f9ebee"/><text x="508.3" y="349.68" font-size="15.7">Transport (China GVC)</text><rect x="496" y="362.84" width="8" height="8" fill="#843c0c"/><text x="508.3" y="371.14" font-size="15.7">Food Products (Direct)</text><rect x="496" y="384.30" width="8" height="8" fill="#c55a11"/><text x="508.3" y="392.60" font-size="15.7">Textiles (Direct)</text><rect x="496" y="405.76" width="8" height="8" fill="#ed7d31"/><text x="508.3" y="414.06" font-size="15.7">Wood &amp; products (Direct)</text><rect x="496" y="427.22" width="8" height="8" fill="#ffc000"/><text x="508.3" y="435.52" font-size="15.7">Rubber &amp; Plastics (Direct)</text><rect x="496" y="448.68" width="8" height="8" fill="#fff2cc"/><text x="508.3" y="456.98" font-size="15.7">Basic Metals (Direct)</text><rect x="496" y="470.14" width="8" height="8" fill="#d9d9d9"/><text x="508.3" y="478.44" font-size="15.7">Others (Direct)</text><rect x="496" y="491.60" width="8" height="8" fill="#fbeed8"/><rect x="497" y="492.60" width="7" height="7" fill="#843c0c"/><text x="508.3" y="499.90" font-size="15.7">Food Products (China GVC)</text><rect x="496" y="513.06" width="1" height="8" fill="#9a5a32"/><rect x="497" y="513.06" width="1" height="8" fill="#e8d8cc"/><rect x="498" y="513.06" width="1" height="8" fill="#f4ece6"/><rect x="499" y="513.06" width="1" height="8" fill="#8b4513"/><rect x="500" y="513.06" width="1" height="8" fill="#f8f0ea"/><rect x="501" y="513.06" width="1" height="8" fill="#a0582c"/><rect x="502" y="513.06" width="1" height="8" fill="#8f4a1c"/><rect x="503" y="513.06" width="1" height="8" fill="#fff"/><rect x="504" y="513.06" width="1" height="8" fill="#fff"/><text x="508.3" y="521.36" font-size="15.7">Textiles (China GVC)</text><rect x="496" y="534.52" width="8" height="8" fill="#808080"/><text x="508.3" y="542.82" font-size="15.7">Wood &amp; products (China GVC)</text><rect x="496" y="555.98" width="1" height="8" fill="#ffc926"/><rect x="497" y="555.98" width="1" height="8" fill="#ffdc73"/><rect x="498" y="555.98" width="1" height="8" fill="#ffc30d"/><rect x="499" y="555.98" width="1" height="8" fill="#ffe080"/><rect x="500" y="555.98" width="1" height="8" fill="#ffdc73"/><rect x="501" y="555.98" width="1" height="8" fill="#ffd966"/><rect x="502" y="555.98" width="1" height="8" fill="#fff9e6"/><rect x="503" y="555.98" width="1" height="8" fill="#ffe699"/><rect x="504" y="555.98" width="1" height="8" fill="#ffecb2"/><text x="508.3" y="564.28" font-size="15.7">Rubber &amp; Plastics (China GVC)</text><rect x="496" y="577.44" width="1" height="8" fill="#5876b5"/><rect x="497" y="577.44" width="1" height="8" fill="#93a6cf"/><rect x="498" y="577.44" width="1" height="8" fill="#4466ac"/><rect x="499" y="577.44" width="1" height="8" fill="#9caed4"/><rect x="500" y="577.44" width="1" height="8" fill="#93a6cf"/><rect x="501" y="577.44" width="1" height="8" fill="#899ecb"/><rect x="502" y="577.44" width="1" height="8" fill="#ebeff6"/><rect x="503" y="577.44" width="1" height="8" fill="#b0bfdc"/><rect x="504" y="577.44" width="1" height="8" fill="#c4cfe5"/><text x="508.3" y="585.74" font-size="15.7">Basic Metals (China GVC)</text><rect x="496" y="598.90" width="8" height="1" fill="#f4f4f4"/><rect x="496" y="599.90" width="8" height="1" fill="#d6d6d6"/><rect x="496" y="600.90" width="8" height="1" fill="#f0f0f0"/><rect x="496" y="601.90" width="8" height="1" fill="#e8e8e8"/><rect x="496" y="602.90" width="8" height="1" fill="#cfcfcf"/><rect x="496" y="603.90" width="8" height="1" fill="#ececec"/><rect x="496" y="604.90" width="8" height="1" fill="#e4e4e4"/><rect x="496" y="605.90" width="8" height="1" fill="#cacaca"/><text x="508.3" y="607.20" font-size="15.7">Others (China GVC)</text></svg></body></html>
